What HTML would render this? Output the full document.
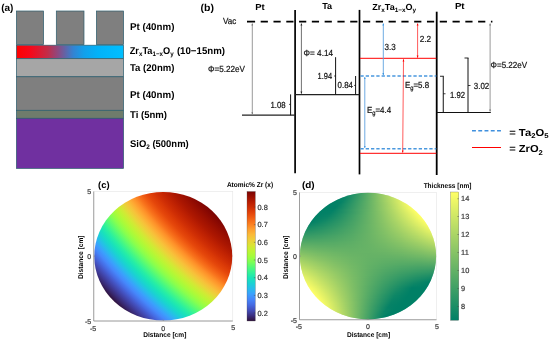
<!DOCTYPE html>
<html lang="en"><head><meta charset="utf-8"><title>Figure</title>
<style>html,body{margin:0;padding:0;background:#fff}body{width:550px;height:341px;overflow:hidden}svg text{font-family:"Liberation Sans",sans-serif}</style></head>
<body>
<svg width="550" height="341" viewBox="0 0 550 341" style="display:block">
<defs>
<linearGradient id="rb" x1="0" y1="0" x2="1" y2="0"><stop offset="0" stop-color="#ff0000"/><stop offset="0.13" stop-color="#f6081a"/><stop offset="0.29" stop-color="#c22c48"/><stop offset="0.39" stop-color="#8c4a82"/><stop offset="0.45" stop-color="#6562a4"/><stop offset="0.53" stop-color="#3383d2"/><stop offset="0.63" stop-color="#12a0ea"/><stop offset="0.76" stop-color="#02b2f8"/><stop offset="1" stop-color="#00bfff"/></linearGradient>
<radialGradient id="tc" gradientUnits="userSpaceOnUse" cx="493.36" cy="-73.86" r="533.53" fx="493.36" fy="-73.86"><stop offset="0.7500" stop-color="#7a0403"/><stop offset="0.7578" stop-color="#880802"/><stop offset="0.7656" stop-color="#950d01"/><stop offset="0.7734" stop-color="#a11201"/><stop offset="0.7813" stop-color="#ac1701"/><stop offset="0.7891" stop-color="#b91e02"/><stop offset="0.7969" stop-color="#c52603"/><stop offset="0.8047" stop-color="#d02f05"/><stop offset="0.8125" stop-color="#dc3b07"/><stop offset="0.8203" stop-color="#e5470b"/><stop offset="0.8281" stop-color="#f05b12"/><stop offset="0.8359" stop-color="#f8721c"/><stop offset="0.8438" stop-color="#fe9029"/><stop offset="0.8516" stop-color="#fea933"/><stop offset="0.8594" stop-color="#f7c13a"/><stop offset="0.8672" stop-color="#e9d539"/><stop offset="0.8750" stop-color="#d2e935"/><stop offset="0.8828" stop-color="#bcf534"/><stop offset="0.8906" stop-color="#a4fc3c"/><stop offset="0.8984" stop-color="#88ff4e"/><stop offset="0.9062" stop-color="#65fd69"/><stop offset="0.9141" stop-color="#43f787"/><stop offset="0.9219" stop-color="#27eea4"/><stop offset="0.9297" stop-color="#19e2bb"/><stop offset="0.9375" stop-color="#1ad2d2"/><stop offset="0.9453" stop-color="#28bceb"/><stop offset="0.9531" stop-color="#3ba0fd"/><stop offset="0.9609" stop-color="#4687fb"/><stop offset="0.9688" stop-color="#466be3"/><stop offset="0.9766" stop-color="#4451bf"/><stop offset="0.9844" stop-color="#3f3b97"/><stop offset="0.9922" stop-color="#38276d"/><stop offset="1.0000" stop-color="#30123b"/></radialGradient>
<linearGradient id="tcb" x1="0" y1="1" x2="0" y2="0"><stop offset="0.0000" stop-color="#30123b"/><stop offset="0.0417" stop-color="#3b2f80"/><stop offset="0.0833" stop-color="#434eba"/><stop offset="0.1250" stop-color="#466be3"/><stop offset="0.1667" stop-color="#4685fa"/><stop offset="0.2083" stop-color="#3ba0fd"/><stop offset="0.2500" stop-color="#28bceb"/><stop offset="0.2917" stop-color="#1ad2d2"/><stop offset="0.3333" stop-color="#1ae4b6"/><stop offset="0.3750" stop-color="#32f298"/><stop offset="0.4167" stop-color="#55fa76"/><stop offset="0.4583" stop-color="#80ff53"/><stop offset="0.5000" stop-color="#a4fc3c"/><stop offset="0.5417" stop-color="#bef434"/><stop offset="0.5833" stop-color="#d9e436"/><stop offset="0.6250" stop-color="#eecf3a"/><stop offset="0.6667" stop-color="#faba39"/><stop offset="0.7083" stop-color="#fe9e2f"/><stop offset="0.7500" stop-color="#fb7e21"/><stop offset="0.7917" stop-color="#f26014"/><stop offset="0.8333" stop-color="#e4450a"/><stop offset="0.8750" stop-color="#d02f05"/><stop offset="0.9167" stop-color="#b91e02"/><stop offset="0.9583" stop-color="#9b0f01"/><stop offset="1.0000" stop-color="#7a0403"/></linearGradient>
<linearGradient id="scb" x1="0" y1="1" x2="0" y2="0"><stop offset="0" stop-color="#008066"/><stop offset="1" stop-color="#ffff66"/></linearGradient>
<linearGradient id="s192" gradientUnits="userSpaceOnUse" x1="364.96" y1="0" x2="371.04" y2="0"><stop offset="0.000" stop-color="#4fa766"/><stop offset="1.000" stop-color="#68b366"/></linearGradient>
<linearGradient id="s193" gradientUnits="userSpaceOnUse" x1="358.26" y1="0" x2="377.74" y2="0"><stop offset="0.000" stop-color="#349a66"/><stop offset="0.875" stop-color="#7bbd66"/><stop offset="1.000" stop-color="#85c266"/></linearGradient>
<linearGradient id="s194" gradientUnits="userSpaceOnUse" x1="352.55" y1="0" x2="383.45" y2="0"><stop offset="0.000" stop-color="#1f8f66"/><stop offset="0.625" stop-color="#6cb666"/><stop offset="1.000" stop-color="#9dce66"/></linearGradient>
<linearGradient id="s195" gradientUnits="userSpaceOnUse" x1="348.50" y1="0" x2="387.50" y2="0"><stop offset="0.000" stop-color="#128866"/><stop offset="0.500" stop-color="#5dae66"/><stop offset="1.000" stop-color="#aed666"/></linearGradient>
<linearGradient id="s196" gradientUnits="userSpaceOnUse" x1="345.21" y1="0" x2="390.79" y2="0"><stop offset="0.000" stop-color="#088466"/><stop offset="0.500" stop-color="#5eae66"/><stop offset="0.875" stop-color="#a3d166"/><stop offset="1.000" stop-color="#bbdd66"/></linearGradient>
<linearGradient id="s197" gradientUnits="userSpaceOnUse" x1="342.38" y1="0" x2="393.62" y2="0"><stop offset="0.000" stop-color="#008066"/><stop offset="0.375" stop-color="#46a266"/><stop offset="0.750" stop-color="#91c866"/><stop offset="1.000" stop-color="#c5e266"/></linearGradient>
<linearGradient id="s198" gradientUnits="userSpaceOnUse" x1="339.87" y1="0" x2="396.13" y2="0"><stop offset="0.000" stop-color="#008066"/><stop offset="0.125" stop-color="#128866"/><stop offset="0.500" stop-color="#5eae66"/><stop offset="0.875" stop-color="#b2d866"/><stop offset="1.000" stop-color="#cfe766"/></linearGradient>
<linearGradient id="s199" gradientUnits="userSpaceOnUse" x1="337.61" y1="0" x2="398.39" y2="0"><stop offset="0.000" stop-color="#008066"/><stop offset="0.125" stop-color="#0e8666"/><stop offset="0.500" stop-color="#5faf66"/><stop offset="0.875" stop-color="#b7db66"/><stop offset="1.000" stop-color="#d7eb66"/></linearGradient>
<linearGradient id="s200" gradientUnits="userSpaceOnUse" x1="335.54" y1="0" x2="400.46" y2="0"><stop offset="0.000" stop-color="#008066"/><stop offset="0.125" stop-color="#0b8566"/><stop offset="0.500" stop-color="#5faf66"/><stop offset="0.875" stop-color="#bcde66"/><stop offset="1.000" stop-color="#ddee66"/></linearGradient>
<linearGradient id="s201" gradientUnits="userSpaceOnUse" x1="333.63" y1="0" x2="402.37" y2="0"><stop offset="0.000" stop-color="#008066"/><stop offset="0.125" stop-color="#088466"/><stop offset="0.500" stop-color="#60b066"/><stop offset="0.875" stop-color="#c1e066"/><stop offset="1.000" stop-color="#e3f166"/></linearGradient>
<linearGradient id="s202" gradientUnits="userSpaceOnUse" x1="331.85" y1="0" x2="404.15" y2="0"><stop offset="0.000" stop-color="#008066"/><stop offset="0.125" stop-color="#068266"/><stop offset="0.500" stop-color="#60b066"/><stop offset="0.750" stop-color="#a2d066"/><stop offset="1.000" stop-color="#e9f466"/></linearGradient>
<linearGradient id="s203" gradientUnits="userSpaceOnUse" x1="330.19" y1="0" x2="405.81" y2="0"><stop offset="0.000" stop-color="#008066"/><stop offset="0.125" stop-color="#058266"/><stop offset="0.500" stop-color="#61b066"/><stop offset="0.750" stop-color="#a4d266"/><stop offset="1.000" stop-color="#edf666"/></linearGradient>
<linearGradient id="s204" gradientUnits="userSpaceOnUse" x1="328.62" y1="0" x2="407.38" y2="0"><stop offset="0.000" stop-color="#008066"/><stop offset="0.125" stop-color="#048266"/><stop offset="0.500" stop-color="#61b066"/><stop offset="0.750" stop-color="#a6d266"/><stop offset="1.000" stop-color="#f1f866"/></linearGradient>
<linearGradient id="s205" gradientUnits="userSpaceOnUse" x1="327.15" y1="0" x2="408.85" y2="0"><stop offset="0.000" stop-color="#008066"/><stop offset="0.125" stop-color="#038166"/><stop offset="0.500" stop-color="#61b066"/><stop offset="0.750" stop-color="#a8d366"/><stop offset="1.000" stop-color="#f5fa66"/></linearGradient>
<linearGradient id="s206" gradientUnits="userSpaceOnUse" x1="325.75" y1="0" x2="410.25" y2="0"><stop offset="0.000" stop-color="#008066"/><stop offset="0.125" stop-color="#028066"/><stop offset="0.500" stop-color="#62b066"/><stop offset="0.750" stop-color="#a9d466"/><stop offset="1.000" stop-color="#f7fb66"/></linearGradient>
<linearGradient id="s207" gradientUnits="userSpaceOnUse" x1="324.42" y1="0" x2="411.58" y2="0"><stop offset="0.000" stop-color="#008066"/><stop offset="0.125" stop-color="#028066"/><stop offset="0.500" stop-color="#62b066"/><stop offset="0.750" stop-color="#abd566"/><stop offset="1.000" stop-color="#fafc66"/></linearGradient>
<linearGradient id="s208" gradientUnits="userSpaceOnUse" x1="323.16" y1="0" x2="412.84" y2="0"><stop offset="0.000" stop-color="#008066"/><stop offset="0.125" stop-color="#028066"/><stop offset="0.500" stop-color="#62b066"/><stop offset="0.750" stop-color="#acd666"/><stop offset="1.000" stop-color="#fcfe66"/></linearGradient>
<linearGradient id="s209" gradientUnits="userSpaceOnUse" x1="321.96" y1="0" x2="414.04" y2="0"><stop offset="0.000" stop-color="#008066"/><stop offset="0.125" stop-color="#038166"/><stop offset="0.500" stop-color="#63b166"/><stop offset="0.750" stop-color="#acd666"/><stop offset="1.000" stop-color="#fefe66"/></linearGradient>
<linearGradient id="s210" gradientUnits="userSpaceOnUse" x1="320.82" y1="0" x2="415.18" y2="0"><stop offset="0.000" stop-color="#008066"/><stop offset="0.125" stop-color="#038166"/><stop offset="0.500" stop-color="#63b166"/><stop offset="0.750" stop-color="#add666"/><stop offset="1.000" stop-color="#ffff66"/></linearGradient>
<linearGradient id="s211" gradientUnits="userSpaceOnUse" x1="319.72" y1="0" x2="416.28" y2="0"><stop offset="0.000" stop-color="#008066"/><stop offset="0.125" stop-color="#048266"/><stop offset="0.250" stop-color="#229066"/><stop offset="0.375" stop-color="#42a066"/><stop offset="0.500" stop-color="#63b166"/><stop offset="0.625" stop-color="#87c366"/><stop offset="0.750" stop-color="#aed666"/><stop offset="1.000" stop-color="#ffff66"/></linearGradient>
<linearGradient id="s212" gradientUnits="userSpaceOnUse" x1="318.67" y1="0" x2="417.33" y2="0"><stop offset="0.000" stop-color="#008066"/><stop offset="0.125" stop-color="#058266"/><stop offset="0.250" stop-color="#229066"/><stop offset="0.375" stop-color="#42a066"/><stop offset="0.500" stop-color="#64b266"/><stop offset="0.625" stop-color="#88c366"/><stop offset="0.750" stop-color="#aed666"/><stop offset="1.000" stop-color="#ffff66"/></linearGradient>
<linearGradient id="s213" gradientUnits="userSpaceOnUse" x1="317.67" y1="0" x2="418.33" y2="0"><stop offset="0.000" stop-color="#008066"/><stop offset="0.125" stop-color="#068266"/><stop offset="0.250" stop-color="#239166"/><stop offset="0.375" stop-color="#42a066"/><stop offset="0.500" stop-color="#64b266"/><stop offset="0.625" stop-color="#88c366"/><stop offset="0.750" stop-color="#aed666"/><stop offset="1.000" stop-color="#ffff66"/></linearGradient>
<linearGradient id="s214" gradientUnits="userSpaceOnUse" x1="316.71" y1="0" x2="419.29" y2="0"><stop offset="0.000" stop-color="#008066"/><stop offset="0.125" stop-color="#078366"/><stop offset="0.250" stop-color="#249266"/><stop offset="0.375" stop-color="#43a166"/><stop offset="0.500" stop-color="#64b266"/><stop offset="0.625" stop-color="#88c366"/><stop offset="0.750" stop-color="#aed666"/><stop offset="1.000" stop-color="#ffff66"/></linearGradient>
<linearGradient id="s215" gradientUnits="userSpaceOnUse" x1="315.79" y1="0" x2="420.21" y2="0"><stop offset="0.000" stop-color="#008066"/><stop offset="0.125" stop-color="#098466"/><stop offset="0.250" stop-color="#259266"/><stop offset="0.375" stop-color="#44a266"/><stop offset="0.500" stop-color="#65b266"/><stop offset="0.625" stop-color="#88c366"/><stop offset="0.750" stop-color="#aed666"/><stop offset="1.000" stop-color="#ffff66"/></linearGradient>
<linearGradient id="s216" gradientUnits="userSpaceOnUse" x1="314.91" y1="0" x2="421.09" y2="0"><stop offset="0.000" stop-color="#008066"/><stop offset="0.125" stop-color="#0a8466"/><stop offset="0.250" stop-color="#269266"/><stop offset="0.375" stop-color="#44a266"/><stop offset="0.500" stop-color="#65b266"/><stop offset="0.625" stop-color="#88c366"/><stop offset="0.750" stop-color="#aed666"/><stop offset="1.000" stop-color="#ffff66"/></linearGradient>
<linearGradient id="s217" gradientUnits="userSpaceOnUse" x1="314.06" y1="0" x2="421.94" y2="0"><stop offset="0.000" stop-color="#008066"/><stop offset="0.125" stop-color="#0c8666"/><stop offset="0.250" stop-color="#279366"/><stop offset="0.375" stop-color="#45a266"/><stop offset="0.500" stop-color="#65b266"/><stop offset="0.625" stop-color="#88c366"/><stop offset="0.750" stop-color="#add666"/><stop offset="1.000" stop-color="#ffff66"/></linearGradient>
<linearGradient id="s218" gradientUnits="userSpaceOnUse" x1="313.25" y1="0" x2="422.75" y2="0"><stop offset="0.000" stop-color="#008066"/><stop offset="0.125" stop-color="#0e8666"/><stop offset="0.250" stop-color="#289366"/><stop offset="0.375" stop-color="#46a266"/><stop offset="0.500" stop-color="#65b266"/><stop offset="0.625" stop-color="#88c366"/><stop offset="0.750" stop-color="#add666"/><stop offset="0.875" stop-color="#d5ea66"/><stop offset="1.000" stop-color="#ffff66"/></linearGradient>
<linearGradient id="s219" gradientUnits="userSpaceOnUse" x1="312.47" y1="0" x2="423.53" y2="0"><stop offset="0.000" stop-color="#008066"/><stop offset="0.125" stop-color="#108866"/><stop offset="0.250" stop-color="#2a9466"/><stop offset="0.375" stop-color="#46a266"/><stop offset="0.500" stop-color="#66b266"/><stop offset="0.625" stop-color="#88c366"/><stop offset="0.750" stop-color="#acd666"/><stop offset="0.875" stop-color="#d4ea66"/><stop offset="1.000" stop-color="#fefe66"/></linearGradient>
<linearGradient id="s220" gradientUnits="userSpaceOnUse" x1="311.72" y1="0" x2="424.28" y2="0"><stop offset="0.000" stop-color="#008066"/><stop offset="0.125" stop-color="#128866"/><stop offset="0.250" stop-color="#2b9566"/><stop offset="0.375" stop-color="#47a366"/><stop offset="0.500" stop-color="#66b266"/><stop offset="0.625" stop-color="#87c366"/><stop offset="0.750" stop-color="#acd666"/><stop offset="0.875" stop-color="#d3e966"/><stop offset="1.000" stop-color="#fdfe66"/></linearGradient>
<linearGradient id="s221" gradientUnits="userSpaceOnUse" x1="311.00" y1="0" x2="425.00" y2="0"><stop offset="0.000" stop-color="#008066"/><stop offset="0.125" stop-color="#148a66"/><stop offset="0.250" stop-color="#2d9666"/><stop offset="0.375" stop-color="#48a366"/><stop offset="0.500" stop-color="#66b266"/><stop offset="0.625" stop-color="#87c366"/><stop offset="0.750" stop-color="#abd566"/><stop offset="0.875" stop-color="#d2e866"/><stop offset="1.000" stop-color="#fcfe66"/></linearGradient>
<linearGradient id="s222" gradientUnits="userSpaceOnUse" x1="310.31" y1="0" x2="425.69" y2="0"><stop offset="0.000" stop-color="#028066"/><stop offset="0.125" stop-color="#178b66"/><stop offset="0.250" stop-color="#2e9666"/><stop offset="0.375" stop-color="#49a466"/><stop offset="0.500" stop-color="#66b266"/><stop offset="0.625" stop-color="#87c366"/><stop offset="0.750" stop-color="#aad466"/><stop offset="0.875" stop-color="#d1e866"/><stop offset="1.000" stop-color="#fafc66"/></linearGradient>
<linearGradient id="s223" gradientUnits="userSpaceOnUse" x1="309.65" y1="0" x2="426.35" y2="0"><stop offset="0.000" stop-color="#068266"/><stop offset="0.125" stop-color="#198c66"/><stop offset="0.250" stop-color="#309866"/><stop offset="0.375" stop-color="#4aa466"/><stop offset="0.500" stop-color="#66b266"/><stop offset="0.625" stop-color="#86c266"/><stop offset="0.750" stop-color="#a9d466"/><stop offset="0.875" stop-color="#cfe766"/><stop offset="1.000" stop-color="#f8fc66"/></linearGradient>
<linearGradient id="s224" gradientUnits="userSpaceOnUse" x1="309.02" y1="0" x2="426.98" y2="0"><stop offset="0.000" stop-color="#098466"/><stop offset="0.125" stop-color="#1c8e66"/><stop offset="0.250" stop-color="#319866"/><stop offset="0.375" stop-color="#4aa466"/><stop offset="0.500" stop-color="#67b366"/><stop offset="0.625" stop-color="#86c266"/><stop offset="0.750" stop-color="#a8d366"/><stop offset="0.875" stop-color="#cee666"/><stop offset="1.000" stop-color="#f6fb66"/></linearGradient>
<linearGradient id="s225" gradientUnits="userSpaceOnUse" x1="308.41" y1="0" x2="427.59" y2="0"><stop offset="0.000" stop-color="#0c8666"/><stop offset="0.125" stop-color="#1e8e66"/><stop offset="0.250" stop-color="#339966"/><stop offset="0.375" stop-color="#4ba566"/><stop offset="0.500" stop-color="#67b366"/><stop offset="0.625" stop-color="#85c266"/><stop offset="0.750" stop-color="#a7d366"/><stop offset="0.875" stop-color="#cce666"/><stop offset="1.000" stop-color="#f4fa66"/></linearGradient>
<linearGradient id="s226" gradientUnits="userSpaceOnUse" x1="307.83" y1="0" x2="428.17" y2="0"><stop offset="0.000" stop-color="#108866"/><stop offset="0.125" stop-color="#219066"/><stop offset="0.250" stop-color="#359a66"/><stop offset="0.375" stop-color="#4ca666"/><stop offset="0.500" stop-color="#67b366"/><stop offset="0.625" stop-color="#85c266"/><stop offset="0.750" stop-color="#a6d266"/><stop offset="0.875" stop-color="#cae466"/><stop offset="1.000" stop-color="#f2f866"/></linearGradient>
<linearGradient id="s227" gradientUnits="userSpaceOnUse" x1="307.27" y1="0" x2="428.73" y2="0"><stop offset="0.000" stop-color="#148a66"/><stop offset="0.125" stop-color="#249266"/><stop offset="0.250" stop-color="#379b66"/><stop offset="0.375" stop-color="#4da666"/><stop offset="0.500" stop-color="#67b366"/><stop offset="0.625" stop-color="#84c266"/><stop offset="0.750" stop-color="#a4d266"/><stop offset="0.875" stop-color="#c8e366"/><stop offset="1.000" stop-color="#eff766"/></linearGradient>
<linearGradient id="s228" gradientUnits="userSpaceOnUse" x1="306.73" y1="0" x2="429.27" y2="0"><stop offset="0.000" stop-color="#188c66"/><stop offset="0.125" stop-color="#269266"/><stop offset="0.250" stop-color="#399c66"/><stop offset="0.375" stop-color="#4ea666"/><stop offset="0.500" stop-color="#67b366"/><stop offset="0.625" stop-color="#83c166"/><stop offset="0.750" stop-color="#a3d166"/><stop offset="0.875" stop-color="#c6e266"/><stop offset="1.000" stop-color="#ecf666"/></linearGradient>
<linearGradient id="s229" gradientUnits="userSpaceOnUse" x1="306.22" y1="0" x2="429.78" y2="0"><stop offset="0.000" stop-color="#1c8e66"/><stop offset="0.125" stop-color="#299466"/><stop offset="0.250" stop-color="#3b9d66"/><stop offset="0.375" stop-color="#4fa766"/><stop offset="0.500" stop-color="#67b366"/><stop offset="0.625" stop-color="#83c166"/><stop offset="0.750" stop-color="#a2d066"/><stop offset="0.875" stop-color="#c4e266"/><stop offset="1.000" stop-color="#eaf466"/></linearGradient>
<linearGradient id="s230" gradientUnits="userSpaceOnUse" x1="305.73" y1="0" x2="430.27" y2="0"><stop offset="0.000" stop-color="#1f8f66"/><stop offset="0.125" stop-color="#2c9666"/><stop offset="0.250" stop-color="#3c9e66"/><stop offset="0.375" stop-color="#50a866"/><stop offset="0.500" stop-color="#67b366"/><stop offset="0.625" stop-color="#82c066"/><stop offset="0.750" stop-color="#a0d066"/><stop offset="0.875" stop-color="#c2e066"/><stop offset="1.000" stop-color="#e7f366"/></linearGradient>
<linearGradient id="s231" gradientUnits="userSpaceOnUse" x1="305.27" y1="0" x2="430.73" y2="0"><stop offset="0.000" stop-color="#249266"/><stop offset="0.125" stop-color="#2f9766"/><stop offset="0.250" stop-color="#3e9e66"/><stop offset="0.375" stop-color="#51a866"/><stop offset="0.500" stop-color="#67b366"/><stop offset="0.625" stop-color="#81c066"/><stop offset="0.750" stop-color="#9fcf66"/><stop offset="0.875" stop-color="#bfdf66"/><stop offset="1.000" stop-color="#e4f266"/></linearGradient>
<linearGradient id="s232" gradientUnits="userSpaceOnUse" x1="304.82" y1="0" x2="431.18" y2="0"><stop offset="0.000" stop-color="#289366"/><stop offset="0.125" stop-color="#329866"/><stop offset="0.250" stop-color="#40a066"/><stop offset="0.375" stop-color="#52a866"/><stop offset="0.500" stop-color="#67b366"/><stop offset="0.625" stop-color="#80c066"/><stop offset="0.750" stop-color="#9dce66"/><stop offset="0.875" stop-color="#bdde66"/><stop offset="1.000" stop-color="#e1f066"/></linearGradient>
<linearGradient id="s233" gradientUnits="userSpaceOnUse" x1="304.40" y1="0" x2="431.60" y2="0"><stop offset="0.000" stop-color="#2c9666"/><stop offset="0.125" stop-color="#359a66"/><stop offset="0.250" stop-color="#42a066"/><stop offset="0.375" stop-color="#53a966"/><stop offset="0.500" stop-color="#68b366"/><stop offset="0.625" stop-color="#80c066"/><stop offset="0.750" stop-color="#9bcd66"/><stop offset="0.875" stop-color="#badc66"/><stop offset="1.000" stop-color="#ddee66"/></linearGradient>
<linearGradient id="s234" gradientUnits="userSpaceOnUse" x1="304.00" y1="0" x2="432.00" y2="0"><stop offset="0.000" stop-color="#309866"/><stop offset="0.125" stop-color="#389c66"/><stop offset="0.250" stop-color="#44a266"/><stop offset="0.375" stop-color="#54aa66"/><stop offset="0.500" stop-color="#68b366"/><stop offset="0.625" stop-color="#7fbf66"/><stop offset="0.750" stop-color="#99cc66"/><stop offset="0.875" stop-color="#b8dc66"/><stop offset="1.000" stop-color="#daec66"/></linearGradient>
<linearGradient id="s235" gradientUnits="userSpaceOnUse" x1="303.62" y1="0" x2="432.38" y2="0"><stop offset="0.000" stop-color="#349a66"/><stop offset="0.125" stop-color="#3c9e66"/><stop offset="0.250" stop-color="#47a366"/><stop offset="0.375" stop-color="#55aa66"/><stop offset="0.500" stop-color="#68b366"/><stop offset="0.625" stop-color="#7ebe66"/><stop offset="0.750" stop-color="#98cc66"/><stop offset="0.875" stop-color="#b5da66"/><stop offset="1.000" stop-color="#d6eb66"/></linearGradient>
<linearGradient id="s236" gradientUnits="userSpaceOnUse" x1="303.26" y1="0" x2="432.74" y2="0"><stop offset="0.000" stop-color="#399c66"/><stop offset="0.125" stop-color="#3f9f66"/><stop offset="0.250" stop-color="#49a466"/><stop offset="0.375" stop-color="#56ab66"/><stop offset="0.500" stop-color="#68b366"/><stop offset="0.625" stop-color="#7dbe66"/><stop offset="0.750" stop-color="#96cb66"/><stop offset="0.875" stop-color="#b2d866"/><stop offset="1.000" stop-color="#d3e966"/></linearGradient>
<linearGradient id="s237" gradientUnits="userSpaceOnUse" x1="302.92" y1="0" x2="433.08" y2="0"><stop offset="0.000" stop-color="#3d9e66"/><stop offset="0.125" stop-color="#42a066"/><stop offset="0.250" stop-color="#4ba566"/><stop offset="0.375" stop-color="#57ab66"/><stop offset="0.500" stop-color="#68b366"/><stop offset="0.625" stop-color="#7cbe66"/><stop offset="0.750" stop-color="#94ca66"/><stop offset="0.875" stop-color="#b0d866"/><stop offset="1.000" stop-color="#cfe766"/></linearGradient>
<linearGradient id="s238" gradientUnits="userSpaceOnUse" x1="302.60" y1="0" x2="433.40" y2="0"><stop offset="0.000" stop-color="#41a066"/><stop offset="0.125" stop-color="#45a266"/><stop offset="0.250" stop-color="#4da666"/><stop offset="0.375" stop-color="#58ac66"/><stop offset="0.500" stop-color="#68b366"/><stop offset="0.625" stop-color="#7bbd66"/><stop offset="0.750" stop-color="#92c866"/><stop offset="0.875" stop-color="#add666"/><stop offset="1.000" stop-color="#cbe566"/></linearGradient>
<linearGradient id="s239" gradientUnits="userSpaceOnUse" x1="302.29" y1="0" x2="433.71" y2="0"><stop offset="0.000" stop-color="#46a266"/><stop offset="0.125" stop-color="#49a466"/><stop offset="0.250" stop-color="#4fa766"/><stop offset="0.375" stop-color="#59ac66"/><stop offset="0.500" stop-color="#68b366"/><stop offset="0.625" stop-color="#7abc66"/><stop offset="0.750" stop-color="#90c866"/><stop offset="0.875" stop-color="#aad466"/><stop offset="1.000" stop-color="#c7e366"/></linearGradient>
<linearGradient id="s240" gradientUnits="userSpaceOnUse" x1="302.01" y1="0" x2="433.99" y2="0"><stop offset="0.000" stop-color="#4aa466"/><stop offset="0.125" stop-color="#4ca666"/><stop offset="0.250" stop-color="#51a866"/><stop offset="0.375" stop-color="#5aac66"/><stop offset="0.500" stop-color="#68b366"/><stop offset="0.625" stop-color="#79bc66"/><stop offset="0.750" stop-color="#8ec666"/><stop offset="0.875" stop-color="#a7d366"/><stop offset="1.000" stop-color="#c3e166"/></linearGradient>
<linearGradient id="s241" gradientUnits="userSpaceOnUse" x1="301.74" y1="0" x2="434.26" y2="0"><stop offset="0.000" stop-color="#4fa766"/><stop offset="0.125" stop-color="#4fa766"/><stop offset="0.250" stop-color="#53a966"/><stop offset="0.375" stop-color="#5cae66"/><stop offset="0.500" stop-color="#68b366"/><stop offset="0.625" stop-color="#78bc66"/><stop offset="0.750" stop-color="#8cc666"/><stop offset="0.875" stop-color="#a4d266"/><stop offset="1.000" stop-color="#bfdf66"/></linearGradient>
<linearGradient id="s242" gradientUnits="userSpaceOnUse" x1="301.50" y1="0" x2="434.50" y2="0"><stop offset="0.000" stop-color="#53a966"/><stop offset="0.125" stop-color="#53a966"/><stop offset="0.250" stop-color="#56ab66"/><stop offset="0.375" stop-color="#5dae66"/><stop offset="0.500" stop-color="#68b366"/><stop offset="0.625" stop-color="#77bb66"/><stop offset="0.750" stop-color="#89c466"/><stop offset="0.875" stop-color="#a0d066"/><stop offset="1.000" stop-color="#bbdd66"/></linearGradient>
<linearGradient id="s243" gradientUnits="userSpaceOnUse" x1="301.27" y1="0" x2="434.73" y2="0"><stop offset="0.000" stop-color="#58ac66"/><stop offset="0.125" stop-color="#56ab66"/><stop offset="0.250" stop-color="#58ac66"/><stop offset="0.375" stop-color="#5eae66"/><stop offset="0.500" stop-color="#68b366"/><stop offset="0.625" stop-color="#75ba66"/><stop offset="0.750" stop-color="#87c366"/><stop offset="0.875" stop-color="#9dce66"/><stop offset="1.000" stop-color="#b7db66"/></linearGradient>
<linearGradient id="s244" gradientUnits="userSpaceOnUse" x1="301.06" y1="0" x2="434.94" y2="0"><stop offset="0.000" stop-color="#5dae66"/><stop offset="0.125" stop-color="#59ac66"/><stop offset="0.250" stop-color="#5aac66"/><stop offset="0.375" stop-color="#5faf66"/><stop offset="0.500" stop-color="#67b366"/><stop offset="0.625" stop-color="#74ba66"/><stop offset="0.750" stop-color="#85c266"/><stop offset="0.875" stop-color="#9acc66"/><stop offset="1.000" stop-color="#b3d966"/></linearGradient>
<linearGradient id="s245" gradientUnits="userSpaceOnUse" x1="300.87" y1="0" x2="435.13" y2="0"><stop offset="0.000" stop-color="#61b066"/><stop offset="0.125" stop-color="#5dae66"/><stop offset="0.250" stop-color="#5cae66"/><stop offset="0.375" stop-color="#60b066"/><stop offset="0.500" stop-color="#67b366"/><stop offset="0.625" stop-color="#73b966"/><stop offset="0.750" stop-color="#83c166"/><stop offset="0.875" stop-color="#97cb66"/><stop offset="1.000" stop-color="#aed666"/></linearGradient>
<linearGradient id="s246" gradientUnits="userSpaceOnUse" x1="300.69" y1="0" x2="435.31" y2="0"><stop offset="0.000" stop-color="#66b266"/><stop offset="0.125" stop-color="#60b066"/><stop offset="0.250" stop-color="#5eae66"/><stop offset="0.375" stop-color="#61b066"/><stop offset="0.500" stop-color="#67b366"/><stop offset="0.625" stop-color="#72b866"/><stop offset="0.750" stop-color="#81c066"/><stop offset="0.875" stop-color="#93c966"/><stop offset="1.000" stop-color="#aad466"/></linearGradient>
<linearGradient id="s247" gradientUnits="userSpaceOnUse" x1="300.54" y1="0" x2="435.46" y2="0"><stop offset="0.000" stop-color="#6ab466"/><stop offset="0.125" stop-color="#63b166"/><stop offset="0.250" stop-color="#61b066"/><stop offset="0.375" stop-color="#62b066"/><stop offset="0.500" stop-color="#67b366"/><stop offset="0.625" stop-color="#71b866"/><stop offset="0.750" stop-color="#7ebe66"/><stop offset="0.875" stop-color="#90c866"/><stop offset="1.000" stop-color="#a5d266"/></linearGradient>
<linearGradient id="s248" gradientUnits="userSpaceOnUse" x1="300.40" y1="0" x2="435.60" y2="0"><stop offset="0.000" stop-color="#6fb766"/><stop offset="0.125" stop-color="#67b366"/><stop offset="0.250" stop-color="#63b166"/><stop offset="0.375" stop-color="#63b166"/><stop offset="0.500" stop-color="#67b366"/><stop offset="0.625" stop-color="#6fb766"/><stop offset="0.750" stop-color="#7cbe66"/><stop offset="0.875" stop-color="#8cc666"/><stop offset="1.000" stop-color="#a1d066"/></linearGradient>
<linearGradient id="s249" gradientUnits="userSpaceOnUse" x1="300.27" y1="0" x2="435.73" y2="0"><stop offset="0.000" stop-color="#73b966"/><stop offset="0.125" stop-color="#6ab466"/><stop offset="0.250" stop-color="#65b266"/><stop offset="0.375" stop-color="#64b266"/><stop offset="0.500" stop-color="#67b366"/><stop offset="0.625" stop-color="#6eb666"/><stop offset="0.750" stop-color="#79bc66"/><stop offset="0.875" stop-color="#89c466"/><stop offset="1.000" stop-color="#9cce66"/></linearGradient>
<linearGradient id="s250" gradientUnits="userSpaceOnUse" x1="300.17" y1="0" x2="435.83" y2="0"><stop offset="0.000" stop-color="#78bc66"/><stop offset="0.125" stop-color="#6eb666"/><stop offset="0.250" stop-color="#67b366"/><stop offset="0.375" stop-color="#65b266"/><stop offset="0.500" stop-color="#67b366"/><stop offset="0.625" stop-color="#6db666"/><stop offset="0.750" stop-color="#77bb66"/><stop offset="0.875" stop-color="#85c266"/><stop offset="1.000" stop-color="#98cc66"/></linearGradient>
<linearGradient id="s251" gradientUnits="userSpaceOnUse" x1="300.08" y1="0" x2="435.92" y2="0"><stop offset="0.000" stop-color="#7dbe66"/><stop offset="0.125" stop-color="#71b866"/><stop offset="0.250" stop-color="#69b466"/><stop offset="0.375" stop-color="#66b266"/><stop offset="0.500" stop-color="#67b366"/><stop offset="0.625" stop-color="#6cb666"/><stop offset="0.750" stop-color="#75ba66"/><stop offset="0.875" stop-color="#82c066"/><stop offset="1.000" stop-color="#93c966"/></linearGradient>
<linearGradient id="s252" gradientUnits="userSpaceOnUse" x1="300.01" y1="0" x2="435.99" y2="0"><stop offset="0.000" stop-color="#81c066"/><stop offset="0.125" stop-color="#74ba66"/><stop offset="0.250" stop-color="#6cb666"/><stop offset="0.375" stop-color="#67b366"/><stop offset="0.500" stop-color="#67b366"/><stop offset="0.625" stop-color="#6ab466"/><stop offset="0.750" stop-color="#72b866"/><stop offset="0.875" stop-color="#7ebe66"/><stop offset="1.000" stop-color="#8ec666"/></linearGradient>
<linearGradient id="s253" gradientUnits="userSpaceOnUse" x1="299.96" y1="0" x2="436.04" y2="0"><stop offset="0.000" stop-color="#86c266"/><stop offset="0.125" stop-color="#78bc66"/><stop offset="0.250" stop-color="#6eb666"/><stop offset="0.375" stop-color="#68b366"/><stop offset="0.500" stop-color="#66b266"/><stop offset="0.625" stop-color="#69b466"/><stop offset="0.750" stop-color="#70b866"/><stop offset="0.875" stop-color="#7bbd66"/><stop offset="1.000" stop-color="#8ac466"/></linearGradient>
<linearGradient id="s254" gradientUnits="userSpaceOnUse" x1="299.92" y1="0" x2="436.08" y2="0"><stop offset="0.000" stop-color="#8ac466"/><stop offset="0.125" stop-color="#7bbd66"/><stop offset="0.250" stop-color="#70b866"/><stop offset="0.375" stop-color="#69b466"/><stop offset="0.500" stop-color="#66b266"/><stop offset="0.625" stop-color="#68b366"/><stop offset="0.750" stop-color="#6db666"/><stop offset="0.875" stop-color="#77bb66"/><stop offset="1.000" stop-color="#85c266"/></linearGradient>
<linearGradient id="s255" gradientUnits="userSpaceOnUse" x1="299.90" y1="0" x2="436.10" y2="0"><stop offset="0.000" stop-color="#8fc766"/><stop offset="0.125" stop-color="#7ebe66"/><stop offset="0.250" stop-color="#72b866"/><stop offset="0.375" stop-color="#6ab466"/><stop offset="0.500" stop-color="#66b266"/><stop offset="0.625" stop-color="#66b266"/><stop offset="0.750" stop-color="#6bb566"/><stop offset="0.875" stop-color="#73b966"/><stop offset="1.000" stop-color="#80c066"/></linearGradient>
<linearGradient id="s256" gradientUnits="userSpaceOnUse" x1="299.90" y1="0" x2="436.10" y2="0"><stop offset="0.000" stop-color="#93c966"/><stop offset="0.125" stop-color="#82c066"/><stop offset="0.250" stop-color="#74ba66"/><stop offset="0.375" stop-color="#6bb566"/><stop offset="0.500" stop-color="#66b266"/><stop offset="0.625" stop-color="#65b266"/><stop offset="0.750" stop-color="#68b366"/><stop offset="0.875" stop-color="#70b866"/><stop offset="1.000" stop-color="#7bbd66"/></linearGradient>
<linearGradient id="s257" gradientUnits="userSpaceOnUse" x1="299.92" y1="0" x2="436.08" y2="0"><stop offset="0.000" stop-color="#98cc66"/><stop offset="0.125" stop-color="#85c266"/><stop offset="0.250" stop-color="#76bb66"/><stop offset="0.375" stop-color="#6cb666"/><stop offset="0.500" stop-color="#66b266"/><stop offset="0.625" stop-color="#64b266"/><stop offset="0.750" stop-color="#66b266"/><stop offset="0.875" stop-color="#6cb666"/><stop offset="1.000" stop-color="#76bb66"/></linearGradient>
<linearGradient id="s258" gradientUnits="userSpaceOnUse" x1="299.95" y1="0" x2="436.05" y2="0"><stop offset="0.000" stop-color="#9cce66"/><stop offset="0.125" stop-color="#88c366"/><stop offset="0.250" stop-color="#78bc66"/><stop offset="0.375" stop-color="#6db666"/><stop offset="0.500" stop-color="#65b266"/><stop offset="0.625" stop-color="#62b066"/><stop offset="0.750" stop-color="#63b166"/><stop offset="0.875" stop-color="#68b366"/><stop offset="1.000" stop-color="#71b866"/></linearGradient>
<linearGradient id="s259" gradientUnits="userSpaceOnUse" x1="300.00" y1="0" x2="436.00" y2="0"><stop offset="0.000" stop-color="#a0d066"/><stop offset="0.125" stop-color="#8bc566"/><stop offset="0.250" stop-color="#7abc66"/><stop offset="0.375" stop-color="#6eb666"/><stop offset="0.500" stop-color="#65b266"/><stop offset="0.625" stop-color="#61b066"/><stop offset="0.750" stop-color="#60b066"/><stop offset="0.875" stop-color="#64b266"/><stop offset="1.000" stop-color="#6cb666"/></linearGradient>
<linearGradient id="s260" gradientUnits="userSpaceOnUse" x1="300.06" y1="0" x2="435.94" y2="0"><stop offset="0.000" stop-color="#a5d266"/><stop offset="0.125" stop-color="#8ec666"/><stop offset="0.250" stop-color="#7cbe66"/><stop offset="0.375" stop-color="#6fb766"/><stop offset="0.500" stop-color="#65b266"/><stop offset="0.625" stop-color="#5faf66"/><stop offset="0.750" stop-color="#5eae66"/><stop offset="0.875" stop-color="#61b066"/><stop offset="1.000" stop-color="#68b366"/></linearGradient>
<linearGradient id="s261" gradientUnits="userSpaceOnUse" x1="300.15" y1="0" x2="435.85" y2="0"><stop offset="0.000" stop-color="#a9d466"/><stop offset="0.125" stop-color="#92c866"/><stop offset="0.250" stop-color="#7ebe66"/><stop offset="0.375" stop-color="#6fb766"/><stop offset="0.500" stop-color="#65b266"/><stop offset="0.625" stop-color="#5eae66"/><stop offset="0.750" stop-color="#5bad66"/><stop offset="0.875" stop-color="#5dae66"/><stop offset="1.000" stop-color="#63b166"/></linearGradient>
<linearGradient id="s262" gradientUnits="userSpaceOnUse" x1="300.25" y1="0" x2="435.75" y2="0"><stop offset="0.000" stop-color="#add666"/><stop offset="0.125" stop-color="#95ca66"/><stop offset="0.250" stop-color="#80c066"/><stop offset="0.375" stop-color="#70b866"/><stop offset="0.500" stop-color="#64b266"/><stop offset="0.625" stop-color="#5dae66"/><stop offset="0.750" stop-color="#59ac66"/><stop offset="0.875" stop-color="#59ac66"/><stop offset="1.000" stop-color="#5eae66"/></linearGradient>
<linearGradient id="s263" gradientUnits="userSpaceOnUse" x1="300.36" y1="0" x2="435.64" y2="0"><stop offset="0.000" stop-color="#b1d866"/><stop offset="0.125" stop-color="#98cc66"/><stop offset="0.250" stop-color="#82c066"/><stop offset="0.375" stop-color="#71b866"/><stop offset="0.500" stop-color="#64b266"/><stop offset="0.625" stop-color="#5bad66"/><stop offset="0.750" stop-color="#56ab66"/><stop offset="0.875" stop-color="#55aa66"/><stop offset="1.000" stop-color="#59ac66"/></linearGradient>
<linearGradient id="s264" gradientUnits="userSpaceOnUse" x1="300.50" y1="0" x2="435.50" y2="0"><stop offset="0.000" stop-color="#b5da66"/><stop offset="0.125" stop-color="#9bcd66"/><stop offset="0.250" stop-color="#84c266"/><stop offset="0.375" stop-color="#72b866"/><stop offset="0.500" stop-color="#64b266"/><stop offset="0.625" stop-color="#5aac66"/><stop offset="0.750" stop-color="#54aa66"/><stop offset="0.875" stop-color="#52a866"/><stop offset="1.000" stop-color="#54aa66"/></linearGradient>
<linearGradient id="s265" gradientUnits="userSpaceOnUse" x1="300.65" y1="0" x2="435.35" y2="0"><stop offset="0.000" stop-color="#b9dc66"/><stop offset="0.125" stop-color="#9ece66"/><stop offset="0.250" stop-color="#86c266"/><stop offset="0.375" stop-color="#73b966"/><stop offset="0.500" stop-color="#63b166"/><stop offset="0.625" stop-color="#58ac66"/><stop offset="0.750" stop-color="#51a866"/><stop offset="0.875" stop-color="#4ea666"/><stop offset="1.000" stop-color="#4fa766"/></linearGradient>
<linearGradient id="s266" gradientUnits="userSpaceOnUse" x1="300.82" y1="0" x2="435.18" y2="0"><stop offset="0.000" stop-color="#bdde66"/><stop offset="0.125" stop-color="#a1d066"/><stop offset="0.250" stop-color="#88c366"/><stop offset="0.375" stop-color="#74ba66"/><stop offset="0.500" stop-color="#63b166"/><stop offset="0.625" stop-color="#57ab66"/><stop offset="0.750" stop-color="#4ea666"/><stop offset="0.875" stop-color="#4aa466"/><stop offset="1.000" stop-color="#4aa466"/></linearGradient>
<linearGradient id="s267" gradientUnits="userSpaceOnUse" x1="301.01" y1="0" x2="434.99" y2="0"><stop offset="0.000" stop-color="#c1e066"/><stop offset="0.125" stop-color="#a4d266"/><stop offset="0.250" stop-color="#8ac466"/><stop offset="0.375" stop-color="#74ba66"/><stop offset="0.500" stop-color="#63b166"/><stop offset="0.625" stop-color="#55aa66"/><stop offset="0.750" stop-color="#4ca666"/><stop offset="0.875" stop-color="#46a266"/><stop offset="1.000" stop-color="#45a266"/></linearGradient>
<linearGradient id="s268" gradientUnits="userSpaceOnUse" x1="301.22" y1="0" x2="434.78" y2="0"><stop offset="0.000" stop-color="#c5e266"/><stop offset="0.125" stop-color="#a6d266"/><stop offset="0.250" stop-color="#8cc666"/><stop offset="0.375" stop-color="#75ba66"/><stop offset="0.500" stop-color="#63b166"/><stop offset="0.625" stop-color="#54aa66"/><stop offset="0.750" stop-color="#49a466"/><stop offset="0.875" stop-color="#43a166"/><stop offset="1.000" stop-color="#40a066"/></linearGradient>
<linearGradient id="s269" gradientUnits="userSpaceOnUse" x1="301.44" y1="0" x2="434.56" y2="0"><stop offset="0.000" stop-color="#c9e466"/><stop offset="0.125" stop-color="#a9d466"/><stop offset="0.250" stop-color="#8ec666"/><stop offset="0.375" stop-color="#76bb66"/><stop offset="0.500" stop-color="#62b066"/><stop offset="0.625" stop-color="#52a866"/><stop offset="0.750" stop-color="#47a366"/><stop offset="0.875" stop-color="#3f9f66"/><stop offset="1.000" stop-color="#3b9d66"/></linearGradient>
<linearGradient id="s270" gradientUnits="userSpaceOnUse" x1="301.68" y1="0" x2="434.32" y2="0"><stop offset="0.000" stop-color="#cce666"/><stop offset="0.125" stop-color="#acd666"/><stop offset="0.250" stop-color="#8fc766"/><stop offset="0.375" stop-color="#77bb66"/><stop offset="0.500" stop-color="#62b066"/><stop offset="0.625" stop-color="#51a866"/><stop offset="0.750" stop-color="#44a266"/><stop offset="0.875" stop-color="#3b9d66"/><stop offset="1.000" stop-color="#369a66"/></linearGradient>
<linearGradient id="s271" gradientUnits="userSpaceOnUse" x1="301.94" y1="0" x2="434.06" y2="0"><stop offset="0.000" stop-color="#d0e866"/><stop offset="0.125" stop-color="#afd766"/><stop offset="0.250" stop-color="#91c866"/><stop offset="0.375" stop-color="#77bb66"/><stop offset="0.500" stop-color="#61b066"/><stop offset="0.625" stop-color="#50a866"/><stop offset="0.750" stop-color="#42a066"/><stop offset="0.875" stop-color="#389c66"/><stop offset="1.000" stop-color="#319866"/></linearGradient>
<linearGradient id="s272" gradientUnits="userSpaceOnUse" x1="302.22" y1="0" x2="433.78" y2="0"><stop offset="0.000" stop-color="#d4ea66"/><stop offset="0.125" stop-color="#b1d866"/><stop offset="0.250" stop-color="#93c966"/><stop offset="0.375" stop-color="#78bc66"/><stop offset="0.500" stop-color="#61b066"/><stop offset="0.625" stop-color="#4ea666"/><stop offset="0.750" stop-color="#3f9f66"/><stop offset="0.875" stop-color="#349a66"/><stop offset="1.000" stop-color="#2d9666"/></linearGradient>
<linearGradient id="s273" gradientUnits="userSpaceOnUse" x1="302.52" y1="0" x2="433.48" y2="0"><stop offset="0.000" stop-color="#d7eb66"/><stop offset="0.125" stop-color="#b4da66"/><stop offset="0.250" stop-color="#94ca66"/><stop offset="0.375" stop-color="#78bc66"/><stop offset="0.500" stop-color="#61b066"/><stop offset="0.625" stop-color="#4da666"/><stop offset="0.750" stop-color="#3d9e66"/><stop offset="0.875" stop-color="#309866"/><stop offset="1.000" stop-color="#289366"/></linearGradient>
<linearGradient id="s274" gradientUnits="userSpaceOnUse" x1="302.83" y1="0" x2="433.17" y2="0"><stop offset="0.000" stop-color="#daec66"/><stop offset="0.125" stop-color="#b6db66"/><stop offset="0.250" stop-color="#96cb66"/><stop offset="0.375" stop-color="#79bc66"/><stop offset="0.500" stop-color="#60b066"/><stop offset="0.625" stop-color="#4ba566"/><stop offset="0.750" stop-color="#3a9c66"/><stop offset="0.875" stop-color="#2d9666"/><stop offset="1.000" stop-color="#239166"/></linearGradient>
<linearGradient id="s275" gradientUnits="userSpaceOnUse" x1="303.17" y1="0" x2="432.83" y2="0"><stop offset="0.000" stop-color="#deee66"/><stop offset="0.125" stop-color="#b8dc66"/><stop offset="0.250" stop-color="#97cb66"/><stop offset="0.375" stop-color="#7abc66"/><stop offset="0.500" stop-color="#60b066"/><stop offset="0.625" stop-color="#4aa466"/><stop offset="0.750" stop-color="#389c66"/><stop offset="0.875" stop-color="#299466"/><stop offset="1.000" stop-color="#1e8e66"/></linearGradient>
<linearGradient id="s276" gradientUnits="userSpaceOnUse" x1="303.53" y1="0" x2="432.47" y2="0"><stop offset="0.000" stop-color="#e1f066"/><stop offset="0.125" stop-color="#bbdd66"/><stop offset="0.250" stop-color="#99cc66"/><stop offset="0.375" stop-color="#7abc66"/><stop offset="0.500" stop-color="#5faf66"/><stop offset="0.625" stop-color="#48a366"/><stop offset="0.750" stop-color="#359a66"/><stop offset="0.875" stop-color="#269266"/><stop offset="1.000" stop-color="#1a8c66"/></linearGradient>
<linearGradient id="s277" gradientUnits="userSpaceOnUse" x1="303.90" y1="0" x2="432.10" y2="0"><stop offset="0.000" stop-color="#e4f266"/><stop offset="0.125" stop-color="#bdde66"/><stop offset="0.250" stop-color="#9acc66"/><stop offset="0.375" stop-color="#7bbd66"/><stop offset="0.500" stop-color="#5faf66"/><stop offset="0.625" stop-color="#47a366"/><stop offset="0.750" stop-color="#339966"/><stop offset="0.875" stop-color="#229066"/><stop offset="1.000" stop-color="#158a66"/></linearGradient>
<linearGradient id="s278" gradientUnits="userSpaceOnUse" x1="304.30" y1="0" x2="431.70" y2="0"><stop offset="0.000" stop-color="#e7f366"/><stop offset="0.125" stop-color="#bfdf66"/><stop offset="0.250" stop-color="#9bcd66"/><stop offset="0.375" stop-color="#7bbd66"/><stop offset="0.500" stop-color="#5eae66"/><stop offset="0.625" stop-color="#46a266"/><stop offset="0.750" stop-color="#309866"/><stop offset="0.875" stop-color="#1f8f66"/><stop offset="1.000" stop-color="#118866"/></linearGradient>
<linearGradient id="s279" gradientUnits="userSpaceOnUse" x1="304.72" y1="0" x2="431.28" y2="0"><stop offset="0.000" stop-color="#e9f466"/><stop offset="0.125" stop-color="#c1e066"/><stop offset="0.250" stop-color="#9dce66"/><stop offset="0.375" stop-color="#7bbd66"/><stop offset="0.500" stop-color="#5eae66"/><stop offset="0.625" stop-color="#44a266"/><stop offset="0.750" stop-color="#2e9666"/><stop offset="0.875" stop-color="#1b8d66"/><stop offset="1.000" stop-color="#0c8666"/></linearGradient>
<linearGradient id="s280" gradientUnits="userSpaceOnUse" x1="305.16" y1="0" x2="430.84" y2="0"><stop offset="0.000" stop-color="#ecf666"/><stop offset="0.125" stop-color="#c3e166"/><stop offset="0.250" stop-color="#9ece66"/><stop offset="0.375" stop-color="#7cbe66"/><stop offset="0.500" stop-color="#5eae66"/><stop offset="0.625" stop-color="#43a166"/><stop offset="0.750" stop-color="#2c9666"/><stop offset="0.875" stop-color="#188c66"/><stop offset="1.000" stop-color="#088466"/></linearGradient>
<linearGradient id="s281" gradientUnits="userSpaceOnUse" x1="305.62" y1="0" x2="430.38" y2="0"><stop offset="0.000" stop-color="#eff766"/><stop offset="0.125" stop-color="#c5e266"/><stop offset="0.250" stop-color="#9fcf66"/><stop offset="0.375" stop-color="#7cbe66"/><stop offset="0.500" stop-color="#5dae66"/><stop offset="0.625" stop-color="#41a066"/><stop offset="0.750" stop-color="#299466"/><stop offset="0.875" stop-color="#158a66"/><stop offset="1.000" stop-color="#038166"/></linearGradient>
<linearGradient id="s282" gradientUnits="userSpaceOnUse" x1="306.10" y1="0" x2="429.90" y2="0"><stop offset="0.000" stop-color="#f1f866"/><stop offset="0.125" stop-color="#c7e366"/><stop offset="0.250" stop-color="#a0d066"/><stop offset="0.375" stop-color="#7cbe66"/><stop offset="0.500" stop-color="#5dae66"/><stop offset="0.625" stop-color="#40a066"/><stop offset="0.750" stop-color="#279366"/><stop offset="0.875" stop-color="#118866"/><stop offset="1.000" stop-color="#008066"/></linearGradient>
<linearGradient id="s283" gradientUnits="userSpaceOnUse" x1="306.60" y1="0" x2="429.40" y2="0"><stop offset="0.000" stop-color="#f3f966"/><stop offset="0.125" stop-color="#c8e366"/><stop offset="0.250" stop-color="#a1d066"/><stop offset="0.375" stop-color="#7dbe66"/><stop offset="0.500" stop-color="#5cae66"/><stop offset="0.625" stop-color="#3f9f66"/><stop offset="0.750" stop-color="#259266"/><stop offset="0.875" stop-color="#0e8666"/><stop offset="1.000" stop-color="#008066"/></linearGradient>
<linearGradient id="s284" gradientUnits="userSpaceOnUse" x1="307.13" y1="0" x2="428.87" y2="0"><stop offset="0.000" stop-color="#f5fa66"/><stop offset="0.125" stop-color="#cae466"/><stop offset="0.250" stop-color="#a2d066"/><stop offset="0.375" stop-color="#7dbe66"/><stop offset="0.500" stop-color="#5cae66"/><stop offset="0.625" stop-color="#3d9e66"/><stop offset="0.750" stop-color="#239166"/><stop offset="0.875" stop-color="#0b8566"/><stop offset="1.000" stop-color="#008066"/></linearGradient>
<linearGradient id="s285" gradientUnits="userSpaceOnUse" x1="307.68" y1="0" x2="428.32" y2="0"><stop offset="0.000" stop-color="#f7fb66"/><stop offset="0.125" stop-color="#cbe566"/><stop offset="0.250" stop-color="#a3d166"/><stop offset="0.375" stop-color="#7dbe66"/><stop offset="0.500" stop-color="#5bad66"/><stop offset="0.625" stop-color="#3c9e66"/><stop offset="0.750" stop-color="#209066"/><stop offset="0.875" stop-color="#088466"/><stop offset="1.000" stop-color="#008066"/></linearGradient>
<linearGradient id="s286" gradientUnits="userSpaceOnUse" x1="308.26" y1="0" x2="427.74" y2="0"><stop offset="0.000" stop-color="#f9fc66"/><stop offset="0.125" stop-color="#cde666"/><stop offset="0.250" stop-color="#a3d166"/><stop offset="0.375" stop-color="#7dbe66"/><stop offset="0.500" stop-color="#5aac66"/><stop offset="0.625" stop-color="#3b9d66"/><stop offset="0.750" stop-color="#1e8e66"/><stop offset="0.875" stop-color="#058266"/><stop offset="1.000" stop-color="#008066"/></linearGradient>
<linearGradient id="s287" gradientUnits="userSpaceOnUse" x1="308.86" y1="0" x2="427.14" y2="0"><stop offset="0.000" stop-color="#fbfd66"/><stop offset="0.125" stop-color="#cee666"/><stop offset="0.250" stop-color="#a4d266"/><stop offset="0.375" stop-color="#7dbe66"/><stop offset="0.500" stop-color="#5aac66"/><stop offset="0.625" stop-color="#3a9c66"/><stop offset="0.750" stop-color="#1c8e66"/><stop offset="0.875" stop-color="#028066"/><stop offset="1.000" stop-color="#008066"/></linearGradient>
<linearGradient id="s288" gradientUnits="userSpaceOnUse" x1="309.49" y1="0" x2="426.51" y2="0"><stop offset="0.000" stop-color="#fcfe66"/><stop offset="0.125" stop-color="#cfe766"/><stop offset="0.250" stop-color="#a5d266"/><stop offset="0.375" stop-color="#7dbe66"/><stop offset="0.500" stop-color="#59ac66"/><stop offset="0.625" stop-color="#389c66"/><stop offset="0.750" stop-color="#1a8c66"/><stop offset="0.875" stop-color="#008066"/><stop offset="1.000" stop-color="#008066"/></linearGradient>
<linearGradient id="s289" gradientUnits="userSpaceOnUse" x1="310.14" y1="0" x2="425.86" y2="0"><stop offset="0.000" stop-color="#fdfe66"/><stop offset="0.125" stop-color="#d0e866"/><stop offset="0.250" stop-color="#a5d266"/><stop offset="0.375" stop-color="#7dbe66"/><stop offset="0.500" stop-color="#59ac66"/><stop offset="0.625" stop-color="#379b66"/><stop offset="0.750" stop-color="#188c66"/><stop offset="0.875" stop-color="#008066"/><stop offset="1.000" stop-color="#008066"/></linearGradient>
<linearGradient id="s290" gradientUnits="userSpaceOnUse" x1="310.83" y1="0" x2="425.17" y2="0"><stop offset="0.000" stop-color="#fefe66"/><stop offset="0.125" stop-color="#d0e866"/><stop offset="0.250" stop-color="#a5d266"/><stop offset="0.375" stop-color="#7dbe66"/><stop offset="0.500" stop-color="#58ac66"/><stop offset="0.625" stop-color="#369a66"/><stop offset="0.750" stop-color="#178b66"/><stop offset="0.875" stop-color="#008066"/><stop offset="1.000" stop-color="#008066"/></linearGradient>
<linearGradient id="s291" gradientUnits="userSpaceOnUse" x1="311.54" y1="0" x2="424.46" y2="0"><stop offset="0.000" stop-color="#ffff66"/><stop offset="0.125" stop-color="#d1e866"/><stop offset="0.250" stop-color="#a6d266"/><stop offset="0.375" stop-color="#7dbe66"/><stop offset="0.500" stop-color="#58ac66"/><stop offset="0.625" stop-color="#359a66"/><stop offset="0.750" stop-color="#158a66"/><stop offset="0.875" stop-color="#008066"/><stop offset="1.000" stop-color="#008066"/></linearGradient>
<linearGradient id="s292" gradientUnits="userSpaceOnUse" x1="312.28" y1="0" x2="423.72" y2="0"><stop offset="0.000" stop-color="#ffff66"/><stop offset="0.125" stop-color="#d2e866"/><stop offset="0.250" stop-color="#a6d266"/><stop offset="0.375" stop-color="#7dbe66"/><stop offset="0.500" stop-color="#57ab66"/><stop offset="0.625" stop-color="#349a66"/><stop offset="0.750" stop-color="#138966"/><stop offset="0.875" stop-color="#008066"/><stop offset="1.000" stop-color="#008066"/></linearGradient>
<linearGradient id="s293" gradientUnits="userSpaceOnUse" x1="313.05" y1="0" x2="422.95" y2="0"><stop offset="0.000" stop-color="#ffff66"/><stop offset="0.250" stop-color="#a6d266"/><stop offset="0.375" stop-color="#7dbe66"/><stop offset="0.500" stop-color="#56ab66"/><stop offset="0.625" stop-color="#339966"/><stop offset="0.750" stop-color="#118866"/><stop offset="0.875" stop-color="#008066"/><stop offset="1.000" stop-color="#008066"/></linearGradient>
<linearGradient id="s294" gradientUnits="userSpaceOnUse" x1="313.85" y1="0" x2="422.15" y2="0"><stop offset="0.000" stop-color="#ffff66"/><stop offset="0.250" stop-color="#a6d266"/><stop offset="0.375" stop-color="#7dbe66"/><stop offset="0.500" stop-color="#56ab66"/><stop offset="0.625" stop-color="#319866"/><stop offset="0.750" stop-color="#108866"/><stop offset="0.875" stop-color="#008066"/><stop offset="1.000" stop-color="#008066"/></linearGradient>
<linearGradient id="s295" gradientUnits="userSpaceOnUse" x1="314.69" y1="0" x2="421.31" y2="0"><stop offset="0.000" stop-color="#ffff66"/><stop offset="0.250" stop-color="#a6d266"/><stop offset="0.375" stop-color="#7cbe66"/><stop offset="0.500" stop-color="#55aa66"/><stop offset="0.625" stop-color="#309866"/><stop offset="0.750" stop-color="#0e8666"/><stop offset="0.875" stop-color="#008066"/><stop offset="1.000" stop-color="#008066"/></linearGradient>
<linearGradient id="s296" gradientUnits="userSpaceOnUse" x1="315.57" y1="0" x2="420.43" y2="0"><stop offset="0.000" stop-color="#ffff66"/><stop offset="0.250" stop-color="#a6d266"/><stop offset="0.375" stop-color="#7cbe66"/><stop offset="0.500" stop-color="#54aa66"/><stop offset="0.625" stop-color="#2f9766"/><stop offset="0.750" stop-color="#0d8666"/><stop offset="0.875" stop-color="#008066"/><stop offset="1.000" stop-color="#008066"/></linearGradient>
<linearGradient id="s297" gradientUnits="userSpaceOnUse" x1="316.48" y1="0" x2="419.52" y2="0"><stop offset="0.000" stop-color="#ffff66"/><stop offset="0.250" stop-color="#a5d266"/><stop offset="0.375" stop-color="#7bbd66"/><stop offset="0.500" stop-color="#54aa66"/><stop offset="0.625" stop-color="#2f9766"/><stop offset="0.750" stop-color="#0c8666"/><stop offset="0.875" stop-color="#008066"/><stop offset="1.000" stop-color="#008066"/></linearGradient>
<linearGradient id="s298" gradientUnits="userSpaceOnUse" x1="317.43" y1="0" x2="418.57" y2="0"><stop offset="0.000" stop-color="#ffff66"/><stop offset="0.125" stop-color="#d1e866"/><stop offset="0.250" stop-color="#a5d266"/><stop offset="0.375" stop-color="#7bbd66"/><stop offset="0.500" stop-color="#53a966"/><stop offset="0.625" stop-color="#2e9666"/><stop offset="0.750" stop-color="#0b8566"/><stop offset="0.875" stop-color="#008066"/><stop offset="1.000" stop-color="#008066"/></linearGradient>
<linearGradient id="s299" gradientUnits="userSpaceOnUse" x1="318.42" y1="0" x2="417.58" y2="0"><stop offset="0.000" stop-color="#fefe66"/><stop offset="0.125" stop-color="#d0e866"/><stop offset="0.250" stop-color="#a4d266"/><stop offset="0.375" stop-color="#7abc66"/><stop offset="0.500" stop-color="#52a866"/><stop offset="0.625" stop-color="#2d9666"/><stop offset="0.750" stop-color="#0a8466"/><stop offset="0.875" stop-color="#008066"/><stop offset="1.000" stop-color="#008066"/></linearGradient>
<linearGradient id="s300" gradientUnits="userSpaceOnUse" x1="319.45" y1="0" x2="416.55" y2="0"><stop offset="0.000" stop-color="#fdfe66"/><stop offset="0.125" stop-color="#cfe766"/><stop offset="0.250" stop-color="#a3d166"/><stop offset="0.375" stop-color="#79bc66"/><stop offset="0.500" stop-color="#52a866"/><stop offset="0.625" stop-color="#2c9666"/><stop offset="0.750" stop-color="#098466"/><stop offset="0.875" stop-color="#008066"/><stop offset="1.000" stop-color="#008066"/></linearGradient>
<linearGradient id="s301" gradientUnits="userSpaceOnUse" x1="320.54" y1="0" x2="415.46" y2="0"><stop offset="0.000" stop-color="#fbfd66"/><stop offset="0.250" stop-color="#a2d066"/><stop offset="0.500" stop-color="#51a866"/><stop offset="0.750" stop-color="#088466"/><stop offset="0.875" stop-color="#008066"/><stop offset="1.000" stop-color="#008066"/></linearGradient>
<linearGradient id="s302" gradientUnits="userSpaceOnUse" x1="321.67" y1="0" x2="414.33" y2="0"><stop offset="0.000" stop-color="#f9fc66"/><stop offset="0.250" stop-color="#a1d066"/><stop offset="0.500" stop-color="#50a866"/><stop offset="0.750" stop-color="#078366"/><stop offset="0.875" stop-color="#008066"/><stop offset="1.000" stop-color="#008066"/></linearGradient>
<linearGradient id="s303" gradientUnits="userSpaceOnUse" x1="322.86" y1="0" x2="413.14" y2="0"><stop offset="0.000" stop-color="#f7fb66"/><stop offset="0.250" stop-color="#a0d066"/><stop offset="0.500" stop-color="#4fa766"/><stop offset="0.750" stop-color="#078366"/><stop offset="0.875" stop-color="#008066"/><stop offset="1.000" stop-color="#008066"/></linearGradient>
<linearGradient id="s304" gradientUnits="userSpaceOnUse" x1="324.10" y1="0" x2="411.90" y2="0"><stop offset="0.000" stop-color="#f4fa66"/><stop offset="0.250" stop-color="#9ece66"/><stop offset="0.500" stop-color="#4fa766"/><stop offset="0.750" stop-color="#068266"/><stop offset="0.875" stop-color="#008066"/><stop offset="1.000" stop-color="#008066"/></linearGradient>
<linearGradient id="s305" gradientUnits="userSpaceOnUse" x1="325.41" y1="0" x2="410.59" y2="0"><stop offset="0.000" stop-color="#f1f866"/><stop offset="0.250" stop-color="#9cce66"/><stop offset="0.500" stop-color="#4ea666"/><stop offset="0.750" stop-color="#068266"/><stop offset="0.875" stop-color="#008066"/><stop offset="1.000" stop-color="#008066"/></linearGradient>
<linearGradient id="s306" gradientUnits="userSpaceOnUse" x1="326.79" y1="0" x2="409.21" y2="0"><stop offset="0.000" stop-color="#edf666"/><stop offset="0.250" stop-color="#9acc66"/><stop offset="0.500" stop-color="#4da666"/><stop offset="0.750" stop-color="#068266"/><stop offset="0.875" stop-color="#008066"/><stop offset="1.000" stop-color="#008066"/></linearGradient>
<linearGradient id="s307" gradientUnits="userSpaceOnUse" x1="328.25" y1="0" x2="407.75" y2="0"><stop offset="0.000" stop-color="#e9f466"/><stop offset="0.250" stop-color="#98cc66"/><stop offset="0.500" stop-color="#4ca666"/><stop offset="0.750" stop-color="#068266"/><stop offset="0.875" stop-color="#008066"/><stop offset="1.000" stop-color="#008066"/></linearGradient>
<linearGradient id="s308" gradientUnits="userSpaceOnUse" x1="329.79" y1="0" x2="406.21" y2="0"><stop offset="0.000" stop-color="#e4f266"/><stop offset="0.250" stop-color="#95ca66"/><stop offset="0.500" stop-color="#4ca666"/><stop offset="0.750" stop-color="#078366"/><stop offset="0.875" stop-color="#008066"/><stop offset="1.000" stop-color="#008066"/></linearGradient>
<linearGradient id="s309" gradientUnits="userSpaceOnUse" x1="331.43" y1="0" x2="404.57" y2="0"><stop offset="0.000" stop-color="#dfef66"/><stop offset="0.250" stop-color="#93c966"/><stop offset="0.500" stop-color="#4ba566"/><stop offset="0.750" stop-color="#088466"/><stop offset="0.875" stop-color="#008066"/><stop offset="1.000" stop-color="#008066"/></linearGradient>
<linearGradient id="s310" gradientUnits="userSpaceOnUse" x1="333.17" y1="0" x2="402.83" y2="0"><stop offset="0.000" stop-color="#d9ec66"/><stop offset="0.250" stop-color="#8fc766"/><stop offset="0.500" stop-color="#4aa466"/><stop offset="0.750" stop-color="#098466"/><stop offset="0.875" stop-color="#008066"/><stop offset="1.000" stop-color="#008066"/></linearGradient>
<linearGradient id="s311" gradientUnits="userSpaceOnUse" x1="335.05" y1="0" x2="400.95" y2="0"><stop offset="0.000" stop-color="#d2e866"/><stop offset="0.250" stop-color="#8cc666"/><stop offset="0.500" stop-color="#49a466"/><stop offset="0.750" stop-color="#0a8466"/><stop offset="0.875" stop-color="#008066"/><stop offset="1.000" stop-color="#008066"/></linearGradient>
<linearGradient id="s312" gradientUnits="userSpaceOnUse" x1="337.08" y1="0" x2="398.92" y2="0"><stop offset="0.000" stop-color="#cbe566"/><stop offset="0.250" stop-color="#88c366"/><stop offset="0.625" stop-color="#2a9466"/><stop offset="0.750" stop-color="#0c8666"/><stop offset="0.875" stop-color="#008066"/><stop offset="1.000" stop-color="#008066"/></linearGradient>
<linearGradient id="s313" gradientUnits="userSpaceOnUse" x1="339.29" y1="0" x2="396.71" y2="0"><stop offset="0.000" stop-color="#c2e066"/><stop offset="0.375" stop-color="#65b266"/><stop offset="0.750" stop-color="#0e8666"/><stop offset="0.875" stop-color="#008066"/><stop offset="1.000" stop-color="#008066"/></linearGradient>
<linearGradient id="s314" gradientUnits="userSpaceOnUse" x1="341.72" y1="0" x2="394.28" y2="0"><stop offset="0.000" stop-color="#b8dc66"/><stop offset="0.375" stop-color="#62b066"/><stop offset="0.750" stop-color="#118866"/><stop offset="0.875" stop-color="#008066"/><stop offset="1.000" stop-color="#008066"/></linearGradient>
<linearGradient id="s315" gradientUnits="userSpaceOnUse" x1="344.46" y1="0" x2="391.54" y2="0"><stop offset="0.000" stop-color="#add666"/><stop offset="0.375" stop-color="#5faf66"/><stop offset="0.750" stop-color="#158a66"/><stop offset="0.875" stop-color="#008066"/><stop offset="1.000" stop-color="#008066"/></linearGradient>
<linearGradient id="s316" gradientUnits="userSpaceOnUse" x1="347.62" y1="0" x2="388.38" y2="0"><stop offset="0.000" stop-color="#9fcf66"/><stop offset="0.375" stop-color="#5bad66"/><stop offset="0.750" stop-color="#1a8c66"/><stop offset="0.875" stop-color="#058266"/><stop offset="1.000" stop-color="#008066"/></linearGradient>
<linearGradient id="s317" gradientUnits="userSpaceOnUse" x1="351.44" y1="0" x2="384.56" y2="0"><stop offset="0.000" stop-color="#8ec666"/><stop offset="0.500" stop-color="#44a266"/><stop offset="1.000" stop-color="#008066"/></linearGradient>
<linearGradient id="s318" gradientUnits="userSpaceOnUse" x1="356.55" y1="0" x2="379.45" y2="0"><stop offset="0.000" stop-color="#76bb66"/><stop offset="0.750" stop-color="#2a9466"/><stop offset="1.000" stop-color="#118866"/></linearGradient>
<linearGradient id="s319" gradientUnits="userSpaceOnUse" x1="364.96" y1="0" x2="371.04" y2="0"><stop offset="0.000" stop-color="#50a866"/><stop offset="1.000" stop-color="#359a66"/></linearGradient>
<clipPath id="dclip"><ellipse cx="368.00" cy="256.12" rx="68.10" ry="63.27"/></clipPath>
<marker id="mk" viewBox="0 0 6 6" refX="5.2" refY="3" markerWidth="2.6" markerHeight="2.3" markerUnits="userSpaceOnUse" orient="auto-start-reverse"><path d="M0,0.6 L6,3 L0,5.4 z" fill="#222"/></marker>
<marker id="mg" viewBox="0 0 6 6" refX="5.2" refY="3" markerWidth="2.6" markerHeight="2.3" markerUnits="userSpaceOnUse" orient="auto-start-reverse"><path d="M0,0.6 L6,3 L0,5.4 z" fill="#777"/></marker>
<marker id="mr" viewBox="0 0 6 6" refX="5.2" refY="3" markerWidth="2.6" markerHeight="2.3" markerUnits="userSpaceOnUse" orient="auto-start-reverse"><path d="M0,0.6 L6,3 L0,5.4 z" fill="#ff0000"/></marker>
<marker id="mb" viewBox="0 0 6 6" refX="5.2" refY="3" markerWidth="2.6" markerHeight="2.3" markerUnits="userSpaceOnUse" orient="auto-start-reverse"><path d="M0,0.6 L6,3 L0,5.4 z" fill="#3b97e3"/></marker>
<filter id="noop" x="0" y="0" width="550" height="341" filterUnits="userSpaceOnUse"><feOffset dx="0" dy="0"/></filter>
</defs>
<rect width="550" height="341" fill="#fff"/>
<rect x="16.40" y="11.00" width="27.20" height="33.60" fill="#7f7f7f" stroke="#2b5d6e" stroke-width="0.70"/>
<rect x="56.30" y="11.00" width="27.70" height="33.60" fill="#7f7f7f" stroke="#2b5d6e" stroke-width="0.70"/>
<rect x="96.40" y="11.00" width="27.20" height="33.60" fill="#7f7f7f" stroke="#2b5d6e" stroke-width="0.70"/>
<rect x="16.40" y="45.20" width="107.20" height="13.50" fill="url(#rb)" stroke="#2b5d6e" stroke-width="0.70"/>
<rect x="16.40" y="58.70" width="107.20" height="18.10" fill="#a6a6a6" stroke="#2b5d6e" stroke-width="0.70"/>
<rect x="16.40" y="76.80" width="107.20" height="33.50" fill="#7f7f7f" stroke="#2b5d6e" stroke-width="0.70"/>
<rect x="16.40" y="110.30" width="107.20" height="8.00" fill="#6f7c6c" stroke="#2b5d6e" stroke-width="0.70"/>
<rect x="16.40" y="118.30" width="107.20" height="50.10" fill="#7030a0" stroke="#2b5d6e" stroke-width="0.70"/>
<g font-family="'Liberation Sans', sans-serif" text-rendering="geometricPrecision" filter="url(#noop)">
<text x="1.20" y="10.80" font-size="10.00" font-weight="bold" fill="#000" text-anchor="start" textLength="12.20" lengthAdjust="spacingAndGlyphs" >(a)</text>
<text x="200.50" y="10.80" font-size="10.00" font-weight="bold" fill="#000" text-anchor="start" textLength="13.40" lengthAdjust="spacingAndGlyphs" >(b)</text>
<text x="98.10" y="188.20" font-size="9.20" font-weight="bold" fill="#000" text-anchor="start" textLength="11.50" lengthAdjust="spacingAndGlyphs" >(c)</text>
<text x="301.90" y="188.20" font-size="9.20" font-weight="bold" fill="#000" text-anchor="start" textLength="12.70" lengthAdjust="spacingAndGlyphs" >(d)</text>
<text x="130.00" y="30.00" font-size="9.80" font-weight="bold" fill="#000" text-anchor="start" textLength="44.40" lengthAdjust="spacingAndGlyphs" >Pt (40nm)</text>
<text x="129.70" y="54.00" font-size="9.80" font-weight="bold" fill="#000" text-anchor="start" textLength="43.90" lengthAdjust="spacingAndGlyphs" >Zr<tspan font-size="6.60" dy="2.11">x</tspan><tspan font-size="0.1" dy="-2.11">&#8203;</tspan>Ta<tspan font-size="6.60" dy="2.11">1&#8722;x</tspan><tspan font-size="0.1" dy="-2.11">&#8203;</tspan>O<tspan font-size="6.60" dy="2.11">y</tspan><tspan font-size="0.1" dy="-2.11">&#8203;</tspan></text>
<text x="176.90" y="54.00" font-size="9.80" font-weight="bold" fill="#000" text-anchor="start" textLength="48.10" lengthAdjust="spacingAndGlyphs" >(10&#8722;15nm)</text>
<text x="130.00" y="71.00" font-size="9.80" font-weight="bold" fill="#000" text-anchor="start" textLength="44.40" lengthAdjust="spacingAndGlyphs" >Ta (20nm)</text>
<text x="130.00" y="97.60" font-size="9.80" font-weight="bold" fill="#000" text-anchor="start" textLength="44.40" lengthAdjust="spacingAndGlyphs" >Pt (40nm)</text>
<text x="130.00" y="117.90" font-size="9.80" font-weight="bold" fill="#000" text-anchor="start" textLength="37.00" lengthAdjust="spacingAndGlyphs" >Ti (5nm)</text>
<text x="130.00" y="146.90" font-size="9.80" font-weight="bold" fill="#000" text-anchor="start" textLength="58.70" lengthAdjust="spacingAndGlyphs" >SiO<tspan font-size="6.60" dy="2.11">2</tspan><tspan font-size="0.1" dy="-2.11">&#8203;</tspan> (500nm)</text>
<text x="260.00" y="10.10" font-size="8.90" font-weight="bold" fill="#000" text-anchor="middle" textLength="9.40" lengthAdjust="spacingAndGlyphs" >Pt</text>
<text x="327.10" y="9.10" font-size="8.90" font-weight="bold" fill="#000" text-anchor="middle" textLength="9.90" lengthAdjust="spacingAndGlyphs" >Ta</text>
<text x="394.20" y="9.80" font-size="8.90" font-weight="bold" fill="#000" text-anchor="middle" textLength="44.00" lengthAdjust="spacingAndGlyphs" >Zr<tspan font-size="6.30" dy="2.02">x</tspan><tspan font-size="0.1" dy="-2.02">&#8203;</tspan>Ta<tspan font-size="6.30" dy="2.02">1&#8722;x</tspan><tspan font-size="0.1" dy="-2.02">&#8203;</tspan>O<tspan font-size="6.30" dy="2.02">y</tspan><tspan font-size="0.1" dy="-2.02">&#8203;</tspan></text>
<text x="459.70" y="9.20" font-size="8.90" font-weight="bold" fill="#000" text-anchor="middle" textLength="9.60" lengthAdjust="spacingAndGlyphs" >Pt</text>
<line x1="247.90" y1="21.70" x2="492.40" y2="21.70" stroke="#000" stroke-width="1.70" stroke-dasharray="7.2 5.59"/>
<line x1="247.00" y1="21.70" x2="248.00" y2="21.70" stroke="#000" stroke-width="1.70" />
<text x="223.00" y="24.40" font-size="8.80" font-weight="normal" fill="#141414" text-anchor="start" textLength="13.30" lengthAdjust="spacingAndGlyphs" stroke="#141414" stroke-width="0.22" >Vac</text>
<line x1="295.10" y1="9.90" x2="295.10" y2="173.20" stroke="#000" stroke-width="1.70" />
<line x1="359.50" y1="9.90" x2="359.50" y2="174.40" stroke="#000" stroke-width="1.70" />
<line x1="436.70" y1="11.70" x2="436.70" y2="175.00" stroke="#000" stroke-width="1.80" />
<line x1="242.00" y1="115.20" x2="295.10" y2="115.20" stroke="#222" stroke-width="1.20" />
<line x1="252.30" y1="23.60" x2="252.30" y2="114.20" stroke="#808080" stroke-width="0.80" marker-start="url(#mg)" marker-end="url(#mg)"/>
<text x="208.00" y="71.50" font-size="8.80" font-weight="normal" fill="#141414" text-anchor="start" textLength="37.00" lengthAdjust="spacingAndGlyphs" stroke="#141414" stroke-width="0.22" >&#934;=5.22eV</text>
<line x1="295.10" y1="94.60" x2="359.50" y2="94.60" stroke="#222" stroke-width="1.10" />
<line x1="301.40" y1="23.60" x2="301.40" y2="93.60" stroke="#333" stroke-width="0.70" marker-start="url(#mk)" marker-end="url(#mk)"/>
<text x="303.60" y="56.20" font-size="8.80" font-weight="normal" fill="#141414" text-anchor="start" textLength="29.40" lengthAdjust="spacingAndGlyphs" stroke="#141414" stroke-width="0.22" >&#934;= 4.14</text>
<line x1="335.60" y1="57.20" x2="335.60" y2="94.60" stroke="#111" stroke-width="1.00" />
<line x1="334.00" y1="76.00" x2="335.60" y2="76.00" stroke="#111" stroke-width="0.70" />
<text x="317.60" y="79.00" font-size="8.80" font-weight="normal" fill="#141414" text-anchor="start" textLength="14.60" lengthAdjust="spacingAndGlyphs" stroke="#141414" stroke-width="0.22" >1.94</text>
<line x1="355.60" y1="76.00" x2="355.60" y2="94.60" stroke="#111" stroke-width="1.00" />
<line x1="354.00" y1="85.40" x2="355.60" y2="85.40" stroke="#111" stroke-width="0.70" />
<text x="337.60" y="88.40" font-size="8.80" font-weight="normal" fill="#141414" text-anchor="start" textLength="15.40" lengthAdjust="spacingAndGlyphs" stroke="#141414" stroke-width="0.22" >0.84</text>
<line x1="290.60" y1="94.40" x2="290.60" y2="115.20" stroke="#111" stroke-width="1.00" />
<line x1="289.00" y1="104.40" x2="290.60" y2="104.40" stroke="#111" stroke-width="0.70" />
<text x="270.40" y="107.60" font-size="8.80" font-weight="normal" fill="#141414" text-anchor="start" textLength="15.20" lengthAdjust="spacingAndGlyphs" stroke="#141414" stroke-width="0.22" >1.08</text>
<line x1="360.00" y1="58.30" x2="436.30" y2="58.30" stroke="#ff0000" stroke-width="1.00" />
<line x1="360.00" y1="153.30" x2="436.30" y2="153.30" stroke="#ff0000" stroke-width="1.00" />
<line x1="360.40" y1="75.90" x2="436.30" y2="75.90" stroke="#4a98de" stroke-width="1.50" stroke-dasharray="3.3 2.0"/>
<line x1="360.40" y1="148.70" x2="436.30" y2="148.70" stroke="#4a98de" stroke-width="1.50" stroke-dasharray="3.3 2.0"/>
<line x1="383.30" y1="23.60" x2="383.30" y2="75.00" stroke="#5ea2e0" stroke-width="0.90" marker-start="url(#mb)" marker-end="url(#mb)"/>
<text x="384.50" y="50.10" font-size="8.80" font-weight="normal" fill="#141414" text-anchor="start" textLength="11.20" lengthAdjust="spacingAndGlyphs" stroke="#141414" stroke-width="0.22" >3.3</text>
<line x1="417.60" y1="23.60" x2="417.60" y2="57.60" stroke="#ff0000" stroke-width="0.65" marker-start="url(#mr)" marker-end="url(#mr)"/>
<text x="419.70" y="42.20" font-size="8.80" font-weight="normal" fill="#141414" text-anchor="start" textLength="11.40" lengthAdjust="spacingAndGlyphs" stroke="#141414" stroke-width="0.22" >2.2</text>
<line x1="403.50" y1="59.40" x2="402.70" y2="152.50" stroke="#ff0000" stroke-width="0.65" marker-start="url(#mr)" marker-end="url(#mr)"/>
<text x="404.90" y="88.30" font-size="8.80" font-weight="normal" fill="#141414" text-anchor="start" textLength="24.20" lengthAdjust="spacingAndGlyphs" stroke="#141414" stroke-width="0.22" >E<tspan font-size="6.40" dy="2.05">g</tspan><tspan font-size="0.1" dy="-2.05">&#8203;</tspan>=5.8</text>
<line x1="364.80" y1="77.20" x2="364.80" y2="147.80" stroke="#5ea2e0" stroke-width="0.90" marker-start="url(#mb)" marker-end="url(#mb)"/>
<text x="366.90" y="113.00" font-size="8.80" font-weight="normal" fill="#141414" text-anchor="start" textLength="24.20" lengthAdjust="spacingAndGlyphs" stroke="#141414" stroke-width="0.22" >E<tspan font-size="6.40" dy="2.05">g</tspan><tspan font-size="0.1" dy="-2.05">&#8203;</tspan>=4.4</text>
<line x1="436.70" y1="112.50" x2="490.80" y2="112.50" stroke="#111" stroke-width="1.10" />
<line x1="443.25" y1="76.25" x2="443.25" y2="112.50" stroke="#111" stroke-width="1.00" />
<line x1="440.00" y1="76.25" x2="443.75" y2="76.25" stroke="#111" stroke-width="0.90" />
<line x1="443.25" y1="93.75" x2="445.50" y2="93.75" stroke="#111" stroke-width="0.80" />
<text x="450.00" y="98.00" font-size="8.80" font-weight="normal" fill="#141414" text-anchor="start" textLength="15.00" lengthAdjust="spacingAndGlyphs" stroke="#141414" stroke-width="0.22" >1.92</text>
<line x1="468.00" y1="58.00" x2="468.00" y2="112.50" stroke="#111" stroke-width="1.00" />
<line x1="464.50" y1="58.00" x2="468.50" y2="58.00" stroke="#111" stroke-width="0.90" />
<line x1="468.00" y1="85.50" x2="470.50" y2="85.50" stroke="#111" stroke-width="0.80" />
<text x="473.75" y="88.75" font-size="8.80" font-weight="normal" fill="#141414" text-anchor="start" textLength="15.50" lengthAdjust="spacingAndGlyphs" stroke="#141414" stroke-width="0.22" >3.02</text>
<line x1="490.10" y1="23.60" x2="490.10" y2="111.50" stroke="#808080" stroke-width="0.80" marker-start="url(#mg)" marker-end="url(#mg)"/>
<text x="490.50" y="68.00" font-size="8.80" font-weight="normal" fill="#141414" text-anchor="start" textLength="36.70" lengthAdjust="spacingAndGlyphs" stroke="#141414" stroke-width="0.22" >&#934;=5.22eV</text>
<line x1="472.00" y1="130.80" x2="501.00" y2="130.80" stroke="#3f90de" stroke-width="1.50" stroke-dasharray="3.9 2.36"/>
<line x1="472.00" y1="147.50" x2="501.00" y2="147.50" stroke="#ff0000" stroke-width="1.00" />
<text x="509.20" y="135.60" font-size="10.20" font-weight="bold" fill="#000" text-anchor="start" textLength="39.30" lengthAdjust="spacingAndGlyphs" >= Ta<tspan font-size="7.00" dy="2.24">2</tspan><tspan font-size="0.1" dy="-2.24">&#8203;</tspan>O<tspan font-size="7.00" dy="2.24">5</tspan><tspan font-size="0.1" dy="-2.24">&#8203;</tspan></text>
<text x="509.20" y="152.30" font-size="10.20" font-weight="bold" fill="#000" text-anchor="start" textLength="33.70" lengthAdjust="spacingAndGlyphs" >= ZrO<tspan font-size="7.00" dy="2.24">2</tspan><tspan font-size="0.1" dy="-2.24">&#8203;</tspan></text>
<rect x="93.75" y="191.50" width="139.00" height="129.50" fill="#fff" stroke="#e4e4e4" stroke-width="0.6"/>
<ellipse cx="163.25" cy="256.25" rx="69.00" ry="64.30" fill="url(#tc)"/>
<line x1="93.75" y1="191.50" x2="93.75" y2="321.00" stroke="#8a8a8a" stroke-width="0.80" />
<line x1="93.75" y1="321.00" x2="232.75" y2="321.00" stroke="#8a8a8a" stroke-width="0.80" />
<line x1="163.25" y1="321.00" x2="163.25" y2="319.60" stroke="#8a8a8a" stroke-width="0.70" />
<line x1="93.75" y1="256.25" x2="95.15" y2="256.25" stroke="#8a8a8a" stroke-width="0.70" />
<text x="91.20" y="193.90" font-size="7.00" font-weight="normal" fill="#3c3c3c" text-anchor="end" stroke="#3c3c3c" stroke-width="0.22" >5</text>
<text x="91.20" y="258.65" font-size="7.00" font-weight="normal" fill="#3c3c3c" text-anchor="end" stroke="#3c3c3c" stroke-width="0.22" >0</text>
<text x="91.20" y="323.90" font-size="7.00" font-weight="normal" fill="#3c3c3c" text-anchor="end" stroke="#3c3c3c" stroke-width="0.22" >-5</text>
<text x="93.15" y="330.60" font-size="7.00" font-weight="normal" fill="#3c3c3c" text-anchor="middle" stroke="#3c3c3c" stroke-width="0.22" >-5</text>
<text x="163.25" y="330.60" font-size="7.00" font-weight="normal" fill="#3c3c3c" text-anchor="middle" stroke="#3c3c3c" stroke-width="0.22" >0</text>
<text x="233.15" y="330.20" font-size="7.00" font-weight="normal" fill="#3c3c3c" text-anchor="middle" stroke="#3c3c3c" stroke-width="0.22" >5</text>
<text x="164.75" y="337.20" font-size="6.90" font-weight="bold" fill="#000" text-anchor="middle" textLength="43.20" lengthAdjust="spacingAndGlyphs" >Distance [cm]</text>
<text transform="translate(82.5,257.3) rotate(-90)" font-size="6.9" font-weight="bold" text-anchor="middle" textLength="43.6" lengthAdjust="spacingAndGlyphs">Distance [cm]</text>
<rect x="247" y="191.5" width="8.3" height="129.5" fill="url(#tcb)" stroke="#555" stroke-width="0.3"/>
<text x="250.00" y="186.80" font-size="7.10" font-weight="bold" fill="#000" text-anchor="middle" textLength="46.20" lengthAdjust="spacingAndGlyphs" >Atomic% Zr (x)</text>
<line x1="253.90" y1="313.05" x2="255.30" y2="313.05" stroke="#444" stroke-width="0.50" />
<text x="257.50" y="315.65" font-size="7.40" font-weight="normal" fill="#3c3c3c" text-anchor="start" stroke="#3c3c3c" stroke-width="0.22" >0.2</text>
<line x1="253.90" y1="295.37" x2="255.30" y2="295.37" stroke="#444" stroke-width="0.50" />
<text x="257.50" y="297.97" font-size="7.40" font-weight="normal" fill="#3c3c3c" text-anchor="start" stroke="#3c3c3c" stroke-width="0.22" >0.3</text>
<line x1="253.90" y1="277.69" x2="255.30" y2="277.69" stroke="#444" stroke-width="0.50" />
<text x="257.50" y="280.29" font-size="7.40" font-weight="normal" fill="#3c3c3c" text-anchor="start" stroke="#3c3c3c" stroke-width="0.22" >0.4</text>
<line x1="253.90" y1="260.02" x2="255.30" y2="260.02" stroke="#444" stroke-width="0.50" />
<text x="257.50" y="262.62" font-size="7.40" font-weight="normal" fill="#3c3c3c" text-anchor="start" stroke="#3c3c3c" stroke-width="0.22" >0.5</text>
<line x1="253.90" y1="242.34" x2="255.30" y2="242.34" stroke="#444" stroke-width="0.50" />
<text x="257.50" y="244.94" font-size="7.40" font-weight="normal" fill="#3c3c3c" text-anchor="start" stroke="#3c3c3c" stroke-width="0.22" >0.6</text>
<line x1="253.90" y1="224.66" x2="255.30" y2="224.66" stroke="#444" stroke-width="0.50" />
<text x="257.50" y="227.26" font-size="7.40" font-weight="normal" fill="#3c3c3c" text-anchor="start" stroke="#3c3c3c" stroke-width="0.22" >0.7</text>
<line x1="253.90" y1="206.98" x2="255.30" y2="206.98" stroke="#444" stroke-width="0.50" />
<text x="257.50" y="209.58" font-size="7.40" font-weight="normal" fill="#3c3c3c" text-anchor="start" stroke="#3c3c3c" stroke-width="0.22" >0.8</text>
<rect x="299.50" y="192.50" width="137.00" height="127.25" fill="#fff" stroke="#e4e4e4" stroke-width="0.6"/>
<g clip-path="url(#dclip)"><rect x="298.90" y="192" width="138.20" height="1.6" fill="url(#s192)"/><rect x="298.90" y="193" width="138.20" height="1.6" fill="url(#s193)"/><rect x="298.90" y="194" width="138.20" height="1.6" fill="url(#s194)"/><rect x="298.90" y="195" width="138.20" height="1.6" fill="url(#s195)"/><rect x="298.90" y="196" width="138.20" height="1.6" fill="url(#s196)"/><rect x="298.90" y="197" width="138.20" height="1.6" fill="url(#s197)"/><rect x="298.90" y="198" width="138.20" height="1.6" fill="url(#s198)"/><rect x="298.90" y="199" width="138.20" height="1.6" fill="url(#s199)"/><rect x="298.90" y="200" width="138.20" height="1.6" fill="url(#s200)"/><rect x="298.90" y="201" width="138.20" height="1.6" fill="url(#s201)"/><rect x="298.90" y="202" width="138.20" height="1.6" fill="url(#s202)"/><rect x="298.90" y="203" width="138.20" height="1.6" fill="url(#s203)"/><rect x="298.90" y="204" width="138.20" height="1.6" fill="url(#s204)"/><rect x="298.90" y="205" width="138.20" height="1.6" fill="url(#s205)"/><rect x="298.90" y="206" width="138.20" height="1.6" fill="url(#s206)"/><rect x="298.90" y="207" width="138.20" height="1.6" fill="url(#s207)"/><rect x="298.90" y="208" width="138.20" height="1.6" fill="url(#s208)"/><rect x="298.90" y="209" width="138.20" height="1.6" fill="url(#s209)"/><rect x="298.90" y="210" width="138.20" height="1.6" fill="url(#s210)"/><rect x="298.90" y="211" width="138.20" height="1.6" fill="url(#s211)"/><rect x="298.90" y="212" width="138.20" height="1.6" fill="url(#s212)"/><rect x="298.90" y="213" width="138.20" height="1.6" fill="url(#s213)"/><rect x="298.90" y="214" width="138.20" height="1.6" fill="url(#s214)"/><rect x="298.90" y="215" width="138.20" height="1.6" fill="url(#s215)"/><rect x="298.90" y="216" width="138.20" height="1.6" fill="url(#s216)"/><rect x="298.90" y="217" width="138.20" height="1.6" fill="url(#s217)"/><rect x="298.90" y="218" width="138.20" height="1.6" fill="url(#s218)"/><rect x="298.90" y="219" width="138.20" height="1.6" fill="url(#s219)"/><rect x="298.90" y="220" width="138.20" height="1.6" fill="url(#s220)"/><rect x="298.90" y="221" width="138.20" height="1.6" fill="url(#s221)"/><rect x="298.90" y="222" width="138.20" height="1.6" fill="url(#s222)"/><rect x="298.90" y="223" width="138.20" height="1.6" fill="url(#s223)"/><rect x="298.90" y="224" width="138.20" height="1.6" fill="url(#s224)"/><rect x="298.90" y="225" width="138.20" height="1.6" fill="url(#s225)"/><rect x="298.90" y="226" width="138.20" height="1.6" fill="url(#s226)"/><rect x="298.90" y="227" width="138.20" height="1.6" fill="url(#s227)"/><rect x="298.90" y="228" width="138.20" height="1.6" fill="url(#s228)"/><rect x="298.90" y="229" width="138.20" height="1.6" fill="url(#s229)"/><rect x="298.90" y="230" width="138.20" height="1.6" fill="url(#s230)"/><rect x="298.90" y="231" width="138.20" height="1.6" fill="url(#s231)"/><rect x="298.90" y="232" width="138.20" height="1.6" fill="url(#s232)"/><rect x="298.90" y="233" width="138.20" height="1.6" fill="url(#s233)"/><rect x="298.90" y="234" width="138.20" height="1.6" fill="url(#s234)"/><rect x="298.90" y="235" width="138.20" height="1.6" fill="url(#s235)"/><rect x="298.90" y="236" width="138.20" height="1.6" fill="url(#s236)"/><rect x="298.90" y="237" width="138.20" height="1.6" fill="url(#s237)"/><rect x="298.90" y="238" width="138.20" height="1.6" fill="url(#s238)"/><rect x="298.90" y="239" width="138.20" height="1.6" fill="url(#s239)"/><rect x="298.90" y="240" width="138.20" height="1.6" fill="url(#s240)"/><rect x="298.90" y="241" width="138.20" height="1.6" fill="url(#s241)"/><rect x="298.90" y="242" width="138.20" height="1.6" fill="url(#s242)"/><rect x="298.90" y="243" width="138.20" height="1.6" fill="url(#s243)"/><rect x="298.90" y="244" width="138.20" height="1.6" fill="url(#s244)"/><rect x="298.90" y="245" width="138.20" height="1.6" fill="url(#s245)"/><rect x="298.90" y="246" width="138.20" height="1.6" fill="url(#s246)"/><rect x="298.90" y="247" width="138.20" height="1.6" fill="url(#s247)"/><rect x="298.90" y="248" width="138.20" height="1.6" fill="url(#s248)"/><rect x="298.90" y="249" width="138.20" height="1.6" fill="url(#s249)"/><rect x="298.90" y="250" width="138.20" height="1.6" fill="url(#s250)"/><rect x="298.90" y="251" width="138.20" height="1.6" fill="url(#s251)"/><rect x="298.90" y="252" width="138.20" height="1.6" fill="url(#s252)"/><rect x="298.90" y="253" width="138.20" height="1.6" fill="url(#s253)"/><rect x="298.90" y="254" width="138.20" height="1.6" fill="url(#s254)"/><rect x="298.90" y="255" width="138.20" height="1.6" fill="url(#s255)"/><rect x="298.90" y="256" width="138.20" height="1.6" fill="url(#s256)"/><rect x="298.90" y="257" width="138.20" height="1.6" fill="url(#s257)"/><rect x="298.90" y="258" width="138.20" height="1.6" fill="url(#s258)"/><rect x="298.90" y="259" width="138.20" height="1.6" fill="url(#s259)"/><rect x="298.90" y="260" width="138.20" height="1.6" fill="url(#s260)"/><rect x="298.90" y="261" width="138.20" height="1.6" fill="url(#s261)"/><rect x="298.90" y="262" width="138.20" height="1.6" fill="url(#s262)"/><rect x="298.90" y="263" width="138.20" height="1.6" fill="url(#s263)"/><rect x="298.90" y="264" width="138.20" height="1.6" fill="url(#s264)"/><rect x="298.90" y="265" width="138.20" height="1.6" fill="url(#s265)"/><rect x="298.90" y="266" width="138.20" height="1.6" fill="url(#s266)"/><rect x="298.90" y="267" width="138.20" height="1.6" fill="url(#s267)"/><rect x="298.90" y="268" width="138.20" height="1.6" fill="url(#s268)"/><rect x="298.90" y="269" width="138.20" height="1.6" fill="url(#s269)"/><rect x="298.90" y="270" width="138.20" height="1.6" fill="url(#s270)"/><rect x="298.90" y="271" width="138.20" height="1.6" fill="url(#s271)"/><rect x="298.90" y="272" width="138.20" height="1.6" fill="url(#s272)"/><rect x="298.90" y="273" width="138.20" height="1.6" fill="url(#s273)"/><rect x="298.90" y="274" width="138.20" height="1.6" fill="url(#s274)"/><rect x="298.90" y="275" width="138.20" height="1.6" fill="url(#s275)"/><rect x="298.90" y="276" width="138.20" height="1.6" fill="url(#s276)"/><rect x="298.90" y="277" width="138.20" height="1.6" fill="url(#s277)"/><rect x="298.90" y="278" width="138.20" height="1.6" fill="url(#s278)"/><rect x="298.90" y="279" width="138.20" height="1.6" fill="url(#s279)"/><rect x="298.90" y="280" width="138.20" height="1.6" fill="url(#s280)"/><rect x="298.90" y="281" width="138.20" height="1.6" fill="url(#s281)"/><rect x="298.90" y="282" width="138.20" height="1.6" fill="url(#s282)"/><rect x="298.90" y="283" width="138.20" height="1.6" fill="url(#s283)"/><rect x="298.90" y="284" width="138.20" height="1.6" fill="url(#s284)"/><rect x="298.90" y="285" width="138.20" height="1.6" fill="url(#s285)"/><rect x="298.90" y="286" width="138.20" height="1.6" fill="url(#s286)"/><rect x="298.90" y="287" width="138.20" height="1.6" fill="url(#s287)"/><rect x="298.90" y="288" width="138.20" height="1.6" fill="url(#s288)"/><rect x="298.90" y="289" width="138.20" height="1.6" fill="url(#s289)"/><rect x="298.90" y="290" width="138.20" height="1.6" fill="url(#s290)"/><rect x="298.90" y="291" width="138.20" height="1.6" fill="url(#s291)"/><rect x="298.90" y="292" width="138.20" height="1.6" fill="url(#s292)"/><rect x="298.90" y="293" width="138.20" height="1.6" fill="url(#s293)"/><rect x="298.90" y="294" width="138.20" height="1.6" fill="url(#s294)"/><rect x="298.90" y="295" width="138.20" height="1.6" fill="url(#s295)"/><rect x="298.90" y="296" width="138.20" height="1.6" fill="url(#s296)"/><rect x="298.90" y="297" width="138.20" height="1.6" fill="url(#s297)"/><rect x="298.90" y="298" width="138.20" height="1.6" fill="url(#s298)"/><rect x="298.90" y="299" width="138.20" height="1.6" fill="url(#s299)"/><rect x="298.90" y="300" width="138.20" height="1.6" fill="url(#s300)"/><rect x="298.90" y="301" width="138.20" height="1.6" fill="url(#s301)"/><rect x="298.90" y="302" width="138.20" height="1.6" fill="url(#s302)"/><rect x="298.90" y="303" width="138.20" height="1.6" fill="url(#s303)"/><rect x="298.90" y="304" width="138.20" height="1.6" fill="url(#s304)"/><rect x="298.90" y="305" width="138.20" height="1.6" fill="url(#s305)"/><rect x="298.90" y="306" width="138.20" height="1.6" fill="url(#s306)"/><rect x="298.90" y="307" width="138.20" height="1.6" fill="url(#s307)"/><rect x="298.90" y="308" width="138.20" height="1.6" fill="url(#s308)"/><rect x="298.90" y="309" width="138.20" height="1.6" fill="url(#s309)"/><rect x="298.90" y="310" width="138.20" height="1.6" fill="url(#s310)"/><rect x="298.90" y="311" width="138.20" height="1.6" fill="url(#s311)"/><rect x="298.90" y="312" width="138.20" height="1.6" fill="url(#s312)"/><rect x="298.90" y="313" width="138.20" height="1.6" fill="url(#s313)"/><rect x="298.90" y="314" width="138.20" height="1.6" fill="url(#s314)"/><rect x="298.90" y="315" width="138.20" height="1.6" fill="url(#s315)"/><rect x="298.90" y="316" width="138.20" height="1.6" fill="url(#s316)"/><rect x="298.90" y="317" width="138.20" height="1.6" fill="url(#s317)"/><rect x="298.90" y="318" width="138.20" height="1.6" fill="url(#s318)"/><rect x="298.90" y="319" width="138.20" height="1.6" fill="url(#s319)"/></g>
<line x1="299.50" y1="192.50" x2="299.50" y2="319.75" stroke="#8a8a8a" stroke-width="0.80" />
<line x1="299.50" y1="319.75" x2="436.50" y2="319.75" stroke="#8a8a8a" stroke-width="0.80" />
<line x1="368.00" y1="319.75" x2="368.00" y2="318.35" stroke="#8a8a8a" stroke-width="0.70" />
<line x1="299.50" y1="256.12" x2="300.90" y2="256.12" stroke="#8a8a8a" stroke-width="0.70" />
<text x="297.00" y="194.90" font-size="7.00" font-weight="normal" fill="#3c3c3c" text-anchor="end" stroke="#3c3c3c" stroke-width="0.22" >5</text>
<text x="297.00" y="258.52" font-size="7.00" font-weight="normal" fill="#3c3c3c" text-anchor="end" stroke="#3c3c3c" stroke-width="0.22" >0</text>
<text x="297.00" y="322.65" font-size="7.00" font-weight="normal" fill="#3c3c3c" text-anchor="end" stroke="#3c3c3c" stroke-width="0.22" >-5</text>
<text x="298.90" y="329.40" font-size="7.00" font-weight="normal" fill="#3c3c3c" text-anchor="middle" stroke="#3c3c3c" stroke-width="0.22" >-5</text>
<text x="368.00" y="329.40" font-size="7.00" font-weight="normal" fill="#3c3c3c" text-anchor="middle" stroke="#3c3c3c" stroke-width="0.22" >0</text>
<text x="436.90" y="329.00" font-size="7.00" font-weight="normal" fill="#3c3c3c" text-anchor="middle" stroke="#3c3c3c" stroke-width="0.22" >5</text>
<text x="368.50" y="337.20" font-size="6.90" font-weight="bold" fill="#000" text-anchor="middle" textLength="43.20" lengthAdjust="spacingAndGlyphs" >Distance [cm]</text>
<text transform="translate(288.0,257.3) rotate(-90)" font-size="6.9" font-weight="bold" text-anchor="middle" textLength="43.6" lengthAdjust="spacingAndGlyphs">Distance [cm]</text>
<rect x="450.5" y="192" width="8.3" height="128.3" fill="url(#scb)" stroke="#555" stroke-width="0.3"/>
<text x="447.50" y="187.80" font-size="7.10" font-weight="bold" fill="#000" text-anchor="middle" textLength="47.70" lengthAdjust="spacingAndGlyphs" >Thickness [nm]</text>
<line x1="457.40" y1="198.75" x2="458.80" y2="198.75" stroke="#444" stroke-width="0.50" />
<text x="461.10" y="201.35" font-size="7.40" font-weight="normal" fill="#3c3c3c" text-anchor="start" stroke="#3c3c3c" stroke-width="0.22" >14</text>
<line x1="457.40" y1="216.50" x2="458.80" y2="216.50" stroke="#444" stroke-width="0.50" />
<text x="461.10" y="219.10" font-size="7.40" font-weight="normal" fill="#3c3c3c" text-anchor="start" stroke="#3c3c3c" stroke-width="0.22" >13</text>
<line x1="457.40" y1="234.50" x2="458.80" y2="234.50" stroke="#444" stroke-width="0.50" />
<text x="461.10" y="237.10" font-size="7.40" font-weight="normal" fill="#3c3c3c" text-anchor="start" stroke="#3c3c3c" stroke-width="0.22" >12</text>
<line x1="457.40" y1="252.50" x2="458.80" y2="252.50" stroke="#444" stroke-width="0.50" />
<text x="461.10" y="255.10" font-size="7.40" font-weight="normal" fill="#3c3c3c" text-anchor="start" stroke="#3c3c3c" stroke-width="0.22" >11</text>
<line x1="457.40" y1="270.50" x2="458.80" y2="270.50" stroke="#444" stroke-width="0.50" />
<text x="461.10" y="273.10" font-size="7.40" font-weight="normal" fill="#3c3c3c" text-anchor="start" stroke="#3c3c3c" stroke-width="0.22" >10</text>
<line x1="457.40" y1="288.50" x2="458.80" y2="288.50" stroke="#444" stroke-width="0.50" />
<text x="461.10" y="291.10" font-size="7.40" font-weight="normal" fill="#3c3c3c" text-anchor="start" stroke="#3c3c3c" stroke-width="0.22" >9</text>
<line x1="457.40" y1="306.50" x2="458.80" y2="306.50" stroke="#444" stroke-width="0.50" />
<text x="461.10" y="309.10" font-size="7.40" font-weight="normal" fill="#3c3c3c" text-anchor="start" stroke="#3c3c3c" stroke-width="0.22" >8</text>
</g>
</svg>
</body></html>
